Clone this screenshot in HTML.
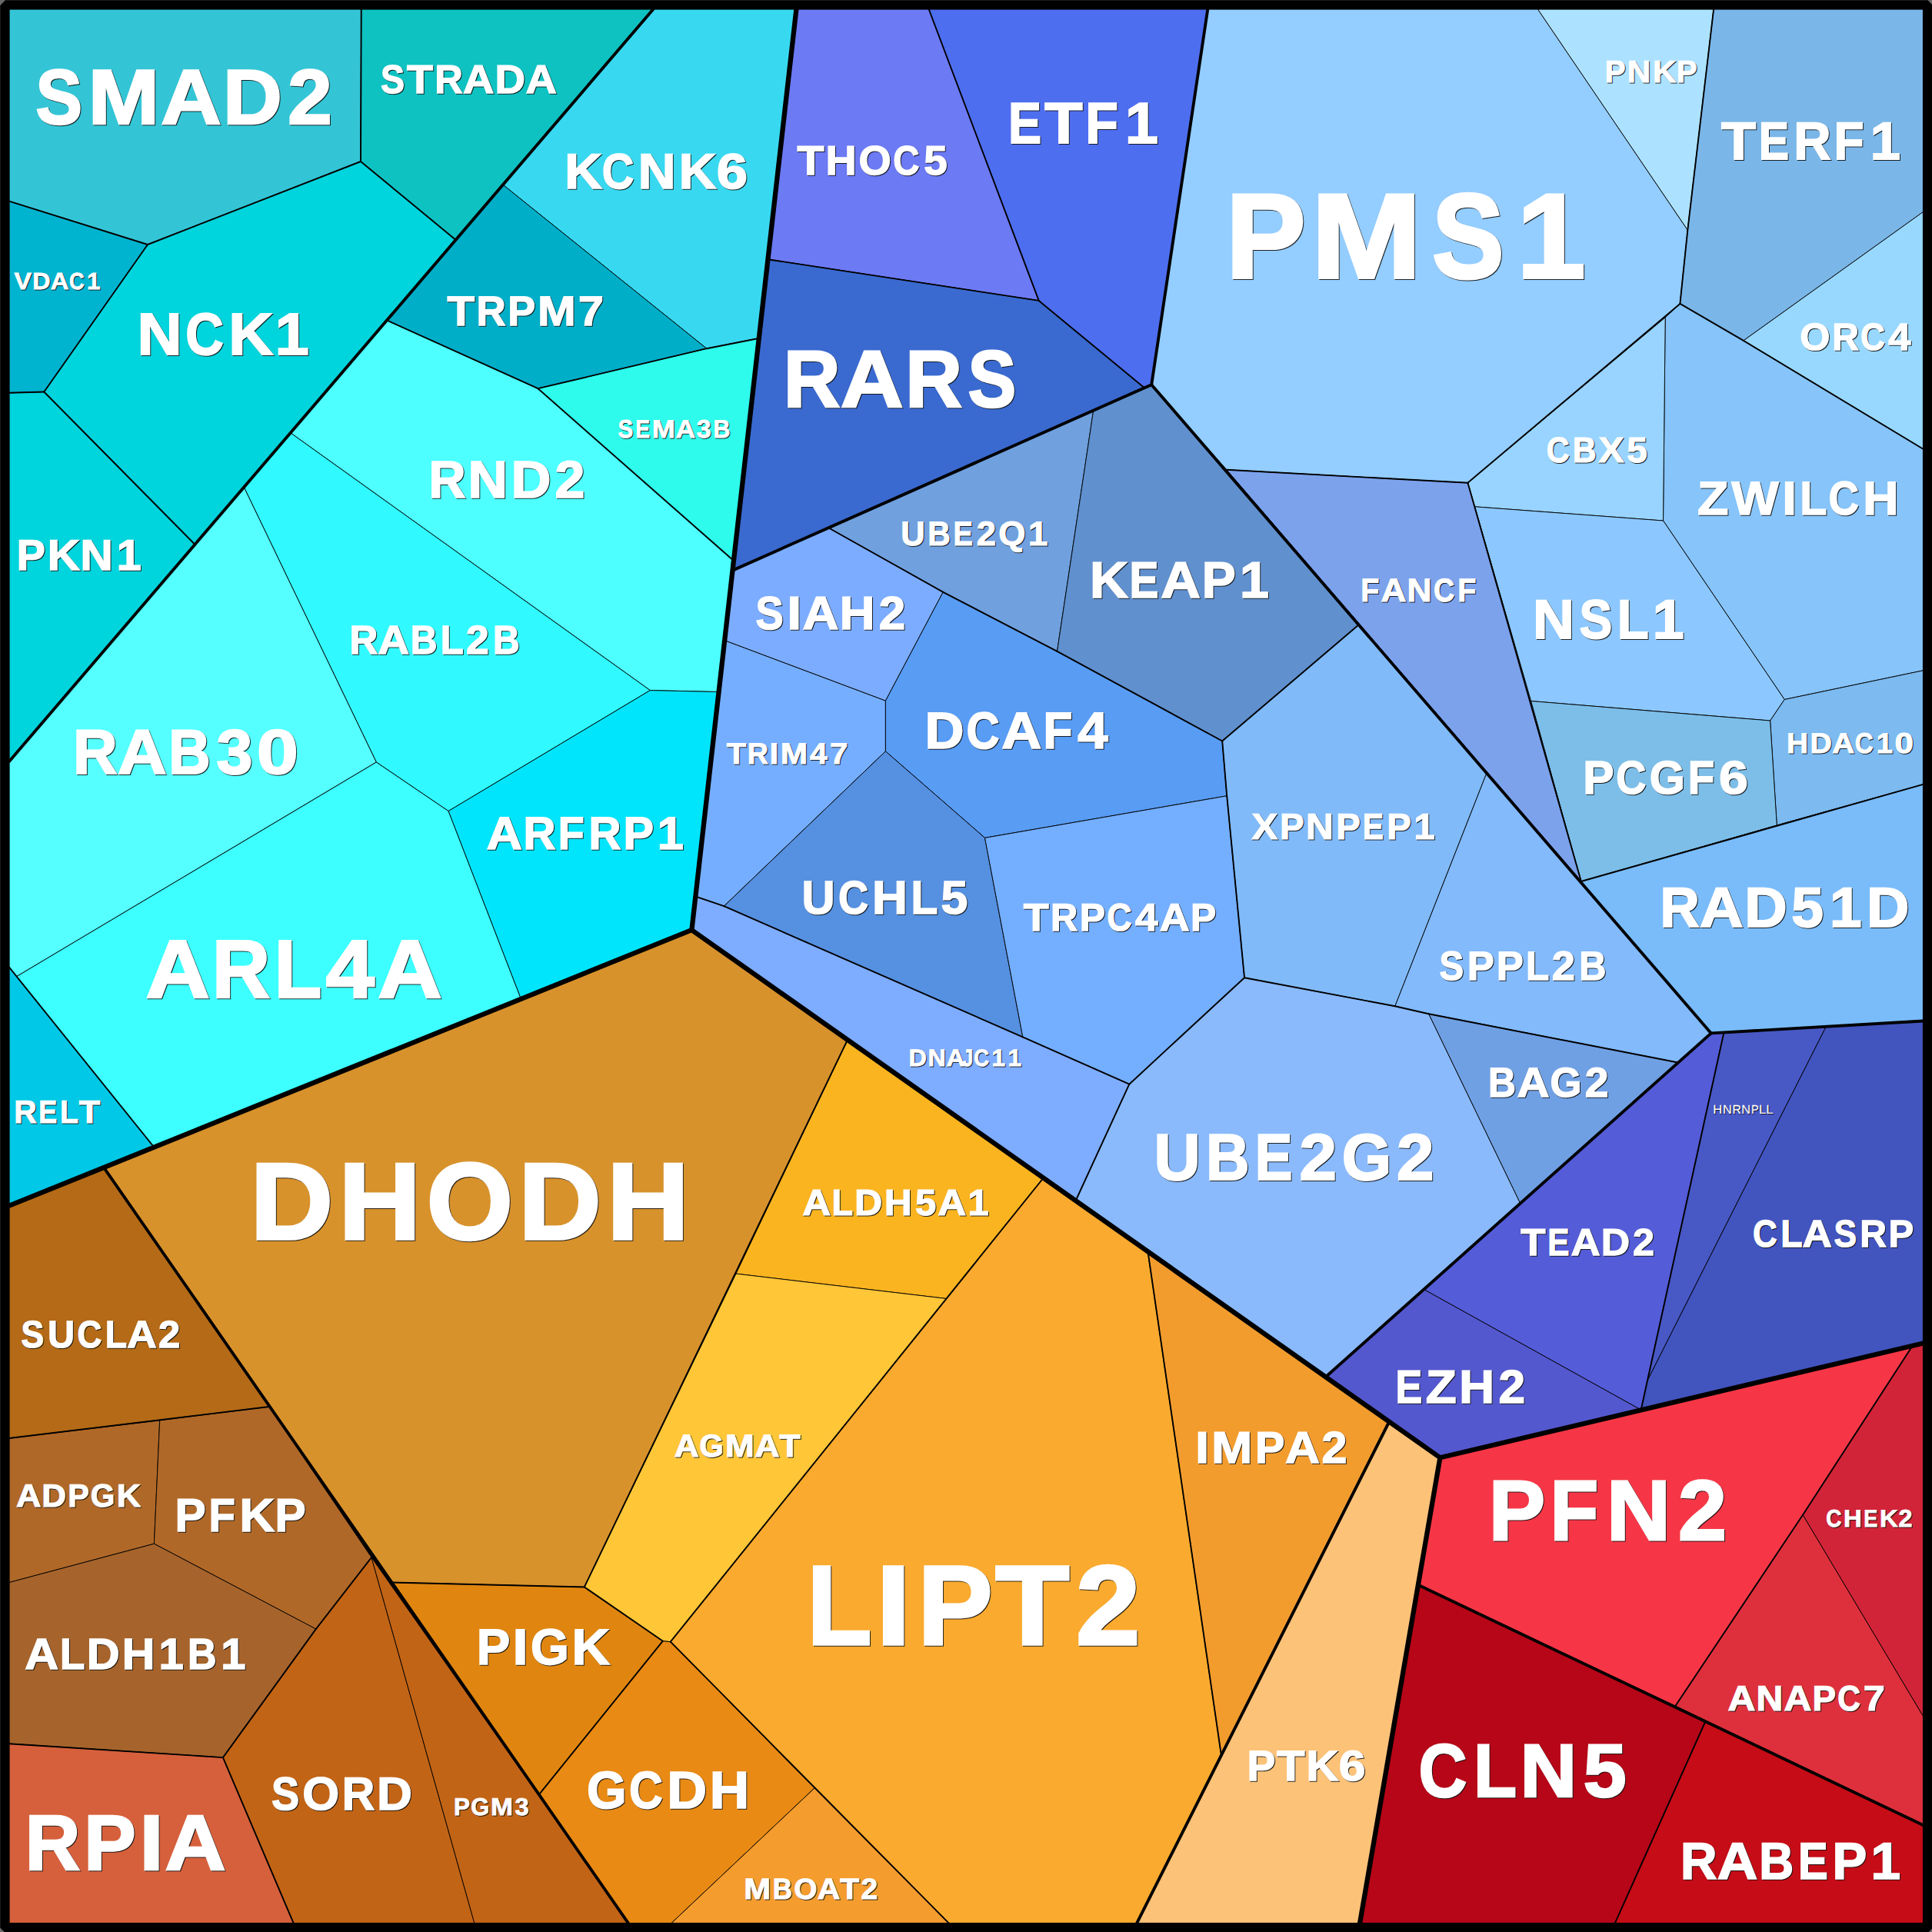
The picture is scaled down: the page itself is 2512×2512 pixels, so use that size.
<!DOCTYPE html>
<html><head><meta charset="utf-8"><title>Voronoi treemap</title>
<style>
html,body{margin:0;padding:0;background:#000;overflow:hidden;}
svg{display:block}
text{font-family:"Liberation Sans",sans-serif;font-weight:bold;font-kerning:none;text-rendering:geometricPrecision;}
.c{stroke:#000;stroke-width:0.90;stroke-linejoin:round}
.l{stroke:#000;fill:none;stroke-linecap:round}
.s{fill:#111;stroke:#111;stroke-linejoin:miter}
.t{fill:#fff;stroke:#fff;stroke-linejoin:miter}
</style></head><body>
<svg width="2512" height="2512" viewBox="0 0 2512 2512">
<rect x="0" y="0" width="2512" height="2512" fill="#6a6a6a"/>
<polygon fill="#000" points="6.9,0.5 2506.5,0.5 2512.6,6.7 2512.6,2506.8 2507,2512.6 6.5,2512.6 0.5,2506.5 0.5,6.9"/>

<g class="c">
<polygon fill="#33C5D6" points="12.0,12.0 469.7,12.0 469.0,210.0 192.0,318.0 12.0,261.7"/>
<polygon fill="#0EC2C2" points="469.7,12.0 849.3,12.0 592.0,311.4 469.0,210.0"/>
<polygon fill="#00B4D0" points="12.0,261.7 192.0,318.0 57.3,509.5 12.0,510.8"/>
<polygon fill="#00D4DC" points="469.0,210.0 592.0,311.4 253.0,707.5 57.3,509.5 192.0,318.0"/>
<polygon fill="#00D4DC" points="12.0,510.8 57.3,509.5 253.0,707.5 12.0,990.0"/>
<polygon fill="#38D9F0" points="849.3,12.0 1035.4,12.0 986.0,440.0 918.8,453.2 654.0,240.2"/>
<polygon fill="#00AEC8" points="654.0,240.2 918.8,453.2 699.5,505.2 503.5,416.7"/>
<polygon fill="#2EFBEB" points="918.8,453.2 986.0,440.0 953.0,728.3 699.5,505.2"/>
<polygon fill="#4DFFFF" points="503.5,416.7 699.5,505.2 953.0,728.3 934.0,899.6 845.3,897.6 378.0,563.0"/>
<polygon fill="#30FAFF" points="378.0,563.0 845.3,897.6 583.0,1054.6 489.3,991.0 317.5,634.0"/>
<polygon fill="#55FFFF" points="317.5,634.0 489.3,991.0 21.7,1269.6 12.0,1257.7 12.0,990.0"/>
<polygon fill="#00E5FC" points="845.3,897.6 934.0,899.6 899.4,1209.2 677.0,1298.0 583.0,1054.6"/>
<polygon fill="#3DFFFF" points="489.3,991.0 583.0,1054.6 677.0,1298.0 199.8,1491.0 21.7,1269.6"/>
<polygon fill="#00C8E6" points="12.0,1257.7 21.7,1269.6 199.8,1491.0 12.0,1567.7"/>
<polygon fill="#6C7AF4" points="1035.4,12.0 1207.7,12.0 1350.7,390.9 998.5,337.2"/>
<polygon fill="#4E6EF0" points="1207.7,12.0 1570.3,12.0 1497.2,500.2 1487.0,503.5 1350.7,390.9"/>
<polygon fill="#3A6AD0" points="998.5,337.2 1350.7,390.9 1487.0,503.5 952.5,741.6"/>
<polygon fill="#94CDFF" points="1570.3,12.0 1999.5,12.0 2194.3,299.1 2184.4,394.9 2165.2,412.8 1908.4,627.8 1594.8,610.8 1497.2,500.2"/>
<polygon fill="#ACE2FF" points="1999.5,12.0 2228.1,12.0 2194.3,299.1"/>
<polygon fill="#7AB6E8" points="2228.1,12.0 2500.4,12.0 2500.4,275.6 2266.9,442.9 2184.4,394.9 2194.3,299.1"/>
<polygon fill="#98D8FF" points="2500.4,275.6 2500.4,583.7 2266.9,442.9"/>
<polygon fill="#86C4FA" points="2165.2,412.8 2184.4,394.9 2266.9,442.9 2500.4,583.7 2500.4,871.8 2320.2,909.5 2162.5,677.0"/>
<polygon fill="#98D4FF" points="1908.4,627.8 2165.2,412.8 2162.5,677.0 1917.5,658.8"/>
<polygon fill="#8CC8FF" points="1917.5,658.8 2162.5,677.0 2320.2,909.5 2301.6,937.0 1990.5,911.5"/>
<polygon fill="#7CBAF0" points="2320.2,909.5 2500.4,871.8 2500.4,1019.9 2310.3,1073.0 2301.6,937.0"/>
<polygon fill="#7CBEE8" points="1990.5,911.5 2301.6,937.0 2310.3,1073.0 2055.8,1146.0"/>
<polygon fill="#7CA2EC" points="1594.8,610.8 1908.4,627.8 1917.5,658.8 1990.5,911.5 2055.8,1146.0"/>
<polygon fill="#7ABCFA" points="2055.8,1146.0 2310.3,1073.0 2500.4,1019.9 2500.4,1327.5 2224.8,1343.4"/>
<polygon fill="#70A0DE" points="1078.5,687.0 1421.6,534.0 1374.5,846.9 1226.2,769.8"/>
<polygon fill="#6090CE" points="1421.6,534.0 1497.2,500.2 1766.4,812.5 1589.2,963.5 1374.5,846.9"/>
<polygon fill="#7CACFF" points="952.5,741.6 1078.5,687.0 1226.2,769.8 1151.4,911.2 942.0,832.7"/>
<polygon fill="#76AEFF" points="942.0,832.7 1151.4,911.2 1151.4,976.8 941.3,1178.2 904.5,1165.6"/>
<polygon fill="#589CF4" points="1226.2,769.8 1374.5,846.9 1589.2,963.5 1595.2,1034.8 1280.5,1089.4 1151.4,976.8 1151.4,911.2"/>
<polygon fill="#5690E0" points="1151.4,976.8 1280.5,1089.4 1329.8,1348.4 941.3,1178.2"/>
<polygon fill="#74AEFF" points="1280.5,1089.4 1595.2,1034.8 1618.0,1271.2 1468.3,1409.7 1329.8,1348.4"/>
<polygon fill="#80BAF8" points="1589.2,963.5 1766.4,812.5 1933.0,1005.0 1813.8,1308.3 1618.0,1271.2 1595.2,1034.8"/>
<polygon fill="#82BAFC" points="1933.0,1005.0 2224.8,1343.4 2181.7,1381.5 1857.5,1318.2 1813.8,1308.3"/>
<polygon fill="#70A0E4" points="1857.5,1318.2 2181.7,1381.5 1976.3,1564.0"/>
<polygon fill="#8ABAFC" points="1468.3,1409.7 1618.0,1271.2 1813.8,1308.3 1857.5,1318.2 1976.3,1564.0 1724.0,1790.0 1398.7,1561.0"/>
<polygon fill="#7EACFF" points="904.5,1165.6 941.3,1178.2 1329.8,1348.4 1468.3,1409.7 1398.7,1561.0 899.4,1209.2"/>
<polygon fill="#5458CE" points="1724.0,1790.0 1851.6,1676.5 2133.7,1833.0 1872.4,1895.2"/>
<polygon fill="#545CD8" points="1851.6,1676.5 2224.8,1343.4 2241.4,1342.5 2142.0,1795.0 2133.7,1833.0"/>
<polygon fill="#4858C4" points="2241.4,1342.5 2374.2,1334.9 2142.0,1795.0"/>
<polygon fill="#4254BE" points="2374.2,1334.9 2500.4,1327.5 2500.4,1746.5 2133.7,1833.0 2142.0,1795.0"/>
<polygon fill="#B46A16" points="12.0,1567.7 135.0,1518.0 350.0,1829.0 12.0,1870.0"/>
<polygon fill="#B06828" points="12.0,1870.0 207.7,1846.9 200.4,2007.2 12.0,2057.5"/>
<polygon fill="#B06828" points="207.7,1846.9 350.0,1829.0 483.0,2025.0 410.8,2118.1 200.4,2007.2"/>
<polygon fill="#A6642C" points="12.0,2057.5 200.4,2007.2 410.8,2118.1 289.9,2285.1 12.0,2267.2"/>
<polygon fill="#D6603C" points="12.0,2267.2 289.9,2285.1 381.6,2500.4 12.0,2500.4"/>
<polygon fill="#C26416" points="289.9,2285.1 410.8,2118.1 483.0,2025.0 616.8,2500.4 381.6,2500.4"/>
<polygon fill="#C26416" points="483.0,2025.0 816.8,2500.4 616.8,2500.4"/>
<polygon fill="#D8922C" points="135.0,1518.0 899.4,1209.2 1102.0,1352.0 957.0,1656.1 759.8,2063.5 509.5,2057.5"/>
<polygon fill="#FAB420" points="1102.0,1352.0 1356.7,1531.5 1230.9,1688.5 957.0,1656.1"/>
<polygon fill="#FFC638" points="957.0,1656.1 1230.9,1688.5 871.8,2134.7 861.8,2133.7 759.8,2063.5"/>
<polygon fill="#FAAA2E" points="1356.7,1531.5 1492.5,1627.5 1588.0,2282.8 1478.2,2500.4 1233.5,2500.4 1058.9,2325.0 871.8,2134.7 1230.9,1688.5"/>
<polygon fill="#F29C2E" points="1492.5,1627.5 1806.2,1848.5 1588.0,2282.8"/>
<polygon fill="#FCC278" points="1806.2,1848.5 1872.4,1895.2 1768.1,2500.4 1478.2,2500.4"/>
<polygon fill="#E08610" points="509.5,2057.5 759.8,2063.5 861.8,2133.7 701.0,2333.1"/>
<polygon fill="#E88A14" points="701.0,2333.1 861.8,2133.7 871.8,2134.7 1058.9,2325.0 873.1,2500.4 816.8,2500.4"/>
<polygon fill="#F49C2E" points="1058.9,2325.0 1233.5,2500.4 873.1,2500.4"/>
<polygon fill="#F63646" points="1872.4,1895.2 2486.5,1750.0 2344.0,1969.7 2178.4,2218.0 1844.0,2060.8"/>
<polygon fill="#D22438" points="2486.5,1750.0 2500.4,1746.5 2500.4,2231.4 2344.0,1969.7"/>
<polygon fill="#DE303C" points="2344.0,1969.7 2500.4,2231.4 2500.4,2372.9 2178.4,2218.0"/>
<polygon fill="#B60618" points="1844.0,2060.8 2217.5,2238.0 2099.9,2500.4 1768.1,2500.4"/>
<polygon fill="#C60C16" points="2217.5,2238.0 2500.4,2372.9 2500.4,2500.4 2099.9,2500.4"/>
</g>
<g class="l">
<polyline stroke-width="6.30" points="1035.4,12.0 899.4,1209.2"/>
<polyline stroke-width="6.30" points="12.0,1567.7 899.4,1209.2"/>
<polyline stroke-width="6.30" points="899.4,1209.2 1872.4,1895.2"/>
<polyline stroke-width="6.30" points="1872.4,1895.2 2500.4,1746.5"/>
<polyline stroke-width="6.30" points="1872.4,1895.2 1768.1,2500.4"/>
<polyline stroke-width="3.90" points="849.3,12.0 12.0,990.0"/>
<polyline stroke-width="3.90" points="1570.3,12.0 1497.2,500.2"/>
<polyline stroke-width="3.90" points="1497.2,500.2 952.5,741.6"/>
<polyline stroke-width="3.90" points="1497.2,500.2 2224.8,1343.4"/>
<polyline stroke-width="3.90" points="2224.8,1343.4 1724.0,1790.0"/>
<polyline stroke-width="3.90" points="2224.8,1343.4 2500.4,1327.5"/>
<polyline stroke-width="3.90" points="135.0,1518.0 816.8,2500.4"/>
<polyline stroke-width="3.90" points="1806.2,1848.5 1478.2,2500.4"/>
<polyline stroke-width="3.90" points="1844.0,2060.8 2500.4,2372.9"/>
<polyline stroke-width="1.90" points="469.7,12.0 469.0,210.0"/>
<polyline stroke-width="1.90" points="469.0,210.0 192.0,318.0"/>
<polyline stroke-width="1.90" points="12.0,261.7 192.0,318.0"/>
<polyline stroke-width="1.90" points="469.0,210.0 592.0,311.4"/>
<polyline stroke-width="1.90" points="192.0,318.0 57.3,509.5"/>
<polyline stroke-width="1.90" points="57.3,509.5 253.0,707.5"/>
<polyline stroke-width="1.90" points="12.0,510.8 57.3,509.5"/>
<polyline stroke-width="1.90" points="918.8,453.2 986.0,440.0"/>
<polyline stroke-width="1.90" points="918.8,453.2 699.5,505.2"/>
<polyline stroke-width="1.90" points="699.5,505.2 503.5,416.7"/>
<polyline stroke-width="1.90" points="699.5,505.2 953.0,728.3"/>
<polyline stroke-width="1.90" points="12.0,1257.7 199.8,1491.0"/>
<polyline stroke-width="1.90" points="1207.7,12.0 1350.7,390.9"/>
<polyline stroke-width="1.90" points="998.5,337.2 1350.7,390.9"/>
<polyline stroke-width="1.90" points="1350.7,390.9 1487.0,503.5"/>
<polyline stroke-width="1.90" points="2194.3,299.1 2184.4,394.9"/>
<polyline stroke-width="1.90" points="2228.1,12.0 2194.3,299.1"/>
<polyline stroke-width="1.90" points="2184.4,394.9 2266.9,442.9"/>
<polyline stroke-width="1.90" points="2266.9,442.9 2500.4,583.7"/>
<polyline stroke-width="1.90" points="2184.4,394.9 1908.4,627.8"/>
<polyline stroke-width="1.90" points="1594.8,610.8 1908.4,627.8"/>
<polyline stroke-width="1.90" points="1908.4,627.8 2055.8,1146.0"/>
<polyline stroke-width="1.90" points="2055.8,1146.0 2500.4,1019.9"/>
<polyline stroke-width="1.90" points="1078.5,687.0 1226.2,769.8"/>
<polyline stroke-width="1.90" points="1226.2,769.8 1374.5,846.9"/>
<polyline stroke-width="1.90" points="1374.5,846.9 1589.2,963.5"/>
<polyline stroke-width="1.90" points="1589.2,963.5 1766.4,812.5"/>
<polyline stroke-width="1.90" points="1589.2,963.5 1595.2,1034.8"/>
<polyline stroke-width="1.90" points="1595.2,1034.8 1618.0,1271.2"/>
<polyline stroke-width="1.90" points="1618.0,1271.2 1468.3,1409.7"/>
<polyline stroke-width="1.90" points="1468.3,1409.7 1329.8,1348.4"/>
<polyline stroke-width="1.90" points="1329.8,1348.4 941.3,1178.2"/>
<polyline stroke-width="1.90" points="941.3,1178.2 904.5,1165.6"/>
<polyline stroke-width="1.90" points="1468.3,1409.7 1398.7,1561.0"/>
<polyline stroke-width="1.90" points="1618.0,1271.2 1813.8,1308.3"/>
<polyline stroke-width="1.90" points="1813.8,1308.3 1857.5,1318.2"/>
<polyline stroke-width="1.90" points="1857.5,1318.2 2181.7,1381.5"/>
<polyline stroke-width="1.90" points="2241.4,1342.5 2142.0,1795.0"/>
<polyline stroke-width="1.90" points="2142.0,1795.0 2133.7,1833.0"/>
<polyline stroke-width="1.90" points="12.0,1870.0 350.0,1829.0"/>
<polyline stroke-width="1.90" points="12.0,2267.2 289.9,2285.1"/>
<polyline stroke-width="1.90" points="289.9,2285.1 410.8,2118.1"/>
<polyline stroke-width="1.90" points="410.8,2118.1 483.0,2025.0"/>
<polyline stroke-width="1.90" points="289.9,2285.1 381.6,2500.4"/>
<polyline stroke-width="1.90" points="1102.0,1352.0 759.8,2063.5"/>
<polyline stroke-width="1.90" points="509.5,2057.5 759.8,2063.5"/>
<polyline stroke-width="1.90" points="1356.7,1531.5 871.8,2134.7"/>
<polyline stroke-width="1.90" points="759.8,2063.5 861.8,2133.7"/>
<polyline stroke-width="1.90" points="861.8,2133.7 701.0,2333.1"/>
<polyline stroke-width="1.90" points="871.8,2134.7 1233.5,2500.4"/>
<polyline stroke-width="1.90" points="1492.5,1627.5 1588.0,2282.8"/>
<polyline stroke-width="1.90" points="2486.5,1750.0 2344.0,1969.7"/>
<polyline stroke-width="1.90" points="2344.0,1969.7 2178.4,2218.0"/>
<polyline stroke-width="1.90" points="2217.5,2238.0 2099.9,2500.4"/>
</g>
<path fill="#000" fill-rule="evenodd" d="M0.5,6.9 L6.9,0.5 H2506.5 L2512.6,6.7 V2506.8 L2507,2512.6 H6.5 L0.5,2506.5 Z M12.3,12.3 V2500.5 H2500.5 V12.3 Z"/>
<g opacity="0.9">
<text class="s" y="162.12" font-size="100.98" stroke-width="2.57"><tspan x="47.5" textLength="60.42" lengthAdjust="spacingAndGlyphs">S</tspan><tspan x="115.8" textLength="92.42" lengthAdjust="spacingAndGlyphs">M</tspan><tspan x="210.3" textLength="78.52" lengthAdjust="spacingAndGlyphs">A</tspan><tspan x="290.9" textLength="76.81" lengthAdjust="spacingAndGlyphs">D</tspan><tspan x="375.2" textLength="57.51" lengthAdjust="spacingAndGlyphs">2</tspan></text>
<text class="s" y="121.74" font-size="51.96" stroke-width="1.32"><tspan x="495.9" textLength="31.09" lengthAdjust="spacingAndGlyphs">S</tspan><tspan x="529.9" textLength="34.07" lengthAdjust="spacingAndGlyphs">T</tspan><tspan x="566.2" textLength="36.58" lengthAdjust="spacingAndGlyphs">R</tspan><tspan x="602.9" textLength="40.41" lengthAdjust="spacingAndGlyphs">A</tspan><tspan x="644.4" textLength="39.52" lengthAdjust="spacingAndGlyphs">D</tspan><tspan x="684.5" textLength="40.41" lengthAdjust="spacingAndGlyphs">A</tspan></text>
<text class="s" y="377.21" font-size="30.57" stroke-width="0.78"><tspan x="19.4" textLength="22.54" lengthAdjust="spacingAndGlyphs">V</tspan><tspan x="43.2" textLength="23.25" lengthAdjust="spacingAndGlyphs">D</tspan><tspan x="66.8" textLength="23.77" lengthAdjust="spacingAndGlyphs">A</tspan><tspan x="91.0" textLength="19.63" lengthAdjust="spacingAndGlyphs">C</tspan><tspan x="113.9" textLength="17.45" lengthAdjust="spacingAndGlyphs">1</tspan></text>
<text class="s" y="461.62" font-size="77.14" stroke-width="1.96"><tspan x="179.6" textLength="58.18" lengthAdjust="spacingAndGlyphs">N</tspan><tspan x="242.2" textLength="49.54" lengthAdjust="spacingAndGlyphs">C</tspan><tspan x="298.2" textLength="58.02" lengthAdjust="spacingAndGlyphs">K</tspan><tspan x="358.7" textLength="44.05" lengthAdjust="spacingAndGlyphs">1</tspan></text>
<text class="s" y="246.48" font-size="64.72" stroke-width="1.65"><tspan x="735.2" textLength="48.67" lengthAdjust="spacingAndGlyphs">K</tspan><tspan x="783.8" textLength="41.56" lengthAdjust="spacingAndGlyphs">C</tspan><tspan x="830.8" textLength="48.81" lengthAdjust="spacingAndGlyphs">N</tspan><tspan x="883.8" textLength="48.67" lengthAdjust="spacingAndGlyphs">K</tspan><tspan x="932.8" textLength="40.37" lengthAdjust="spacingAndGlyphs">6</tspan></text>
<text class="s" y="423.61" font-size="54.33" stroke-width="1.38"><tspan x="582.4" textLength="35.62" lengthAdjust="spacingAndGlyphs">T</tspan><tspan x="620.4" textLength="38.24" lengthAdjust="spacingAndGlyphs">R</tspan><tspan x="661.3" textLength="35.98" lengthAdjust="spacingAndGlyphs">P</tspan><tspan x="699.9" textLength="49.73" lengthAdjust="spacingAndGlyphs">M</tspan><tspan x="752.9" textLength="32.98" lengthAdjust="spacingAndGlyphs">7</tspan></text>
<text class="s" y="569.68" font-size="32.94" stroke-width="0.84"><tspan x="804.5" textLength="19.71" lengthAdjust="spacingAndGlyphs">S</tspan><tspan x="827.3" textLength="18.86" lengthAdjust="spacingAndGlyphs">E</tspan><tspan x="848.8" textLength="30.15" lengthAdjust="spacingAndGlyphs">M</tspan><tspan x="879.6" textLength="25.62" lengthAdjust="spacingAndGlyphs">A</tspan><tspan x="906.7" textLength="18.88" lengthAdjust="spacingAndGlyphs">3</tspan><tspan x="928.6" textLength="21.92" lengthAdjust="spacingAndGlyphs">B</tspan></text>
<text class="s" y="227.92" font-size="53.37" stroke-width="1.36"><tspan x="1037.4" textLength="34.99" lengthAdjust="spacingAndGlyphs">T</tspan><tspan x="1074.5" textLength="40.25" lengthAdjust="spacingAndGlyphs">H</tspan><tspan x="1117.5" textLength="42.33" lengthAdjust="spacingAndGlyphs">O</tspan><tspan x="1162.2" textLength="34.27" lengthAdjust="spacingAndGlyphs">C</tspan><tspan x="1202.2" textLength="30.52" lengthAdjust="spacingAndGlyphs">5</tspan></text>
<text class="s" y="530.47" font-size="104.92" stroke-width="2.67"><tspan x="1019.8" textLength="73.85" lengthAdjust="spacingAndGlyphs">R</tspan><tspan x="1094.0" textLength="81.59" lengthAdjust="spacingAndGlyphs">A</tspan><tspan x="1178.3" textLength="73.85" lengthAdjust="spacingAndGlyphs">R</tspan><tspan x="1259.5" textLength="62.78" lengthAdjust="spacingAndGlyphs">S</tspan></text>
<text class="s" y="648.13" font-size="68.31" stroke-width="1.74"><tspan x="558.4" textLength="48.09" lengthAdjust="spacingAndGlyphs">R</tspan><tspan x="609.6" textLength="51.52" lengthAdjust="spacingAndGlyphs">N</tspan><tspan x="665.5" textLength="51.96" lengthAdjust="spacingAndGlyphs">D</tspan><tspan x="722.5" textLength="38.91" lengthAdjust="spacingAndGlyphs">2</tspan></text>
<text class="s" y="186.54" font-size="75.31" stroke-width="1.92"><tspan x="1311.9" textLength="43.11" lengthAdjust="spacingAndGlyphs">E</tspan><tspan x="1359.3" textLength="49.38" lengthAdjust="spacingAndGlyphs">T</tspan><tspan x="1412.2" textLength="42.71" lengthAdjust="spacingAndGlyphs">F</tspan><tspan x="1463.9" textLength="43.00" lengthAdjust="spacingAndGlyphs">1</tspan></text>
<text class="s" y="361.71" font-size="156.45" stroke-width="3.98"><tspan x="1595.0" textLength="103.60" lengthAdjust="spacingAndGlyphs">P</tspan><tspan x="1706.1" textLength="143.20" lengthAdjust="spacingAndGlyphs">M</tspan><tspan x="1862.9" textLength="93.62" lengthAdjust="spacingAndGlyphs">S</tspan><tspan x="1973.3" textLength="89.33" lengthAdjust="spacingAndGlyphs">1</tspan></text>
<text class="s" y="108.19" font-size="40.46" stroke-width="1.03"><tspan x="2087.8" textLength="26.79" lengthAdjust="spacingAndGlyphs">P</tspan><tspan x="2116.7" textLength="30.51" lengthAdjust="spacingAndGlyphs">N</tspan><tspan x="2149.9" textLength="30.43" lengthAdjust="spacingAndGlyphs">K</tspan><tspan x="2180.7" textLength="26.79" lengthAdjust="spacingAndGlyphs">P</tspan></text>
<text class="s" y="208.12" font-size="68.87" stroke-width="1.75"><tspan x="2239.0" textLength="45.16" lengthAdjust="spacingAndGlyphs">T</tspan><tspan x="2287.8" textLength="39.43" lengthAdjust="spacingAndGlyphs">E</tspan><tspan x="2333.3" textLength="48.48" lengthAdjust="spacingAndGlyphs">R</tspan><tspan x="2385.4" textLength="39.06" lengthAdjust="spacingAndGlyphs">F</tspan><tspan x="2432.7" textLength="39.33" lengthAdjust="spacingAndGlyphs">1</tspan></text>
<text class="s" y="455.87" font-size="49.50" stroke-width="1.26"><tspan x="2341.3" textLength="39.26" lengthAdjust="spacingAndGlyphs">O</tspan><tspan x="2383.3" textLength="34.84" lengthAdjust="spacingAndGlyphs">R</tspan><tspan x="2420.0" textLength="31.79" lengthAdjust="spacingAndGlyphs">C</tspan><tspan x="2456.3" textLength="29.12" lengthAdjust="spacingAndGlyphs">4</tspan></text>
<text class="s" y="601.61" font-size="46.43" stroke-width="1.18"><tspan x="2011.7" textLength="29.82" lengthAdjust="spacingAndGlyphs">C</tspan><tspan x="2045.8" textLength="30.89" lengthAdjust="spacingAndGlyphs">B</tspan><tspan x="2079.5" textLength="32.95" lengthAdjust="spacingAndGlyphs">X</tspan><tspan x="2116.2" textLength="26.56" lengthAdjust="spacingAndGlyphs">5</tspan></text>
<text class="s" y="669.92" font-size="61.43" stroke-width="1.56"><tspan x="2208.0" textLength="40.51" lengthAdjust="spacingAndGlyphs">Z</tspan><tspan x="2252.6" textLength="61.21" lengthAdjust="spacingAndGlyphs">W</tspan><tspan x="2318.2" textLength="18.78" lengthAdjust="spacingAndGlyphs">I</tspan><tspan x="2341.2" textLength="35.21" lengthAdjust="spacingAndGlyphs">L</tspan><tspan x="2378.6" textLength="39.45" lengthAdjust="spacingAndGlyphs">C</tspan><tspan x="2423.2" textLength="46.33" lengthAdjust="spacingAndGlyphs">H</tspan></text>
<text class="s" y="741.89" font-size="56.09" stroke-width="1.43"><tspan x="22.8" textLength="37.15" lengthAdjust="spacingAndGlyphs">P</tspan><tspan x="62.8" textLength="42.19" lengthAdjust="spacingAndGlyphs">K</tspan><tspan x="105.4" textLength="42.30" lengthAdjust="spacingAndGlyphs">N</tspan><tspan x="152.8" textLength="32.03" lengthAdjust="spacingAndGlyphs">1</tspan></text>
<text class="s" y="1006.56" font-size="81.99" stroke-width="2.09"><tspan x="96.1" textLength="57.71" lengthAdjust="spacingAndGlyphs">R</tspan><tspan x="154.1" textLength="63.76" lengthAdjust="spacingAndGlyphs">A</tspan><tspan x="220.3" textLength="54.55" lengthAdjust="spacingAndGlyphs">B</tspan><tspan x="282.6" textLength="46.98" lengthAdjust="spacingAndGlyphs">3</tspan><tspan x="335.0" textLength="53.87" lengthAdjust="spacingAndGlyphs">0</tspan></text>
<text class="s" y="851.23" font-size="52.38" stroke-width="1.33"><tspan x="455.4" textLength="36.87" lengthAdjust="spacingAndGlyphs">R</tspan><tspan x="492.4" textLength="40.73" lengthAdjust="spacingAndGlyphs">A</tspan><tspan x="534.7" textLength="34.85" lengthAdjust="spacingAndGlyphs">B</tspan><tspan x="573.7" textLength="30.02" lengthAdjust="spacingAndGlyphs">L</tspan><tspan x="607.1" textLength="29.83" lengthAdjust="spacingAndGlyphs">2</tspan><tspan x="642.1" textLength="34.85" lengthAdjust="spacingAndGlyphs">B</tspan></text>
<text class="s" y="1297.84" font-size="107.20" stroke-width="2.73"><tspan x="190.5" textLength="83.36" lengthAdjust="spacingAndGlyphs">A</tspan><tspan x="276.7" textLength="75.46" lengthAdjust="spacingAndGlyphs">R</tspan><tspan x="357.7" textLength="61.45" lengthAdjust="spacingAndGlyphs">L</tspan><tspan x="424.7" textLength="63.07" lengthAdjust="spacingAndGlyphs">4</tspan><tspan x="492.3" textLength="83.36" lengthAdjust="spacingAndGlyphs">A</tspan></text>
<text class="s" y="1104.54" font-size="59.80" stroke-width="1.52"><tspan x="633.5" textLength="46.50" lengthAdjust="spacingAndGlyphs">A</tspan><tspan x="681.5" textLength="42.09" lengthAdjust="spacingAndGlyphs">R</tspan><tspan x="726.8" textLength="33.92" lengthAdjust="spacingAndGlyphs">F</tspan><tspan x="766.6" textLength="42.09" lengthAdjust="spacingAndGlyphs">R</tspan><tspan x="811.6" textLength="39.60" lengthAdjust="spacingAndGlyphs">P</tspan><tspan x="855.8" textLength="34.15" lengthAdjust="spacingAndGlyphs">1</tspan></text>
<text class="s" y="819.03" font-size="60.61" stroke-width="1.54"><tspan x="983.6" textLength="36.27" lengthAdjust="spacingAndGlyphs">S</tspan><tspan x="1024.6" textLength="18.53" lengthAdjust="spacingAndGlyphs">I</tspan><tspan x="1044.4" textLength="47.13" lengthAdjust="spacingAndGlyphs">A</tspan><tspan x="1092.8" textLength="45.71" lengthAdjust="spacingAndGlyphs">H</tspan><tspan x="1143.8" textLength="34.52" lengthAdjust="spacingAndGlyphs">2</tspan></text>
<text class="s" y="993.91" font-size="38.70" stroke-width="0.98"><tspan x="945.7" textLength="25.38" lengthAdjust="spacingAndGlyphs">T</tspan><tspan x="972.8" textLength="27.24" lengthAdjust="spacingAndGlyphs">R</tspan><tspan x="1001.6" textLength="11.83" lengthAdjust="spacingAndGlyphs">I</tspan><tspan x="1015.7" textLength="35.42" lengthAdjust="spacingAndGlyphs">M</tspan><tspan x="1053.9" textLength="22.77" lengthAdjust="spacingAndGlyphs">4</tspan><tspan x="1079.9" textLength="23.49" lengthAdjust="spacingAndGlyphs">7</tspan></text>
<text class="s" y="1189.02" font-size="60.95" stroke-width="1.55"><tspan x="1043.6" textLength="43.17" lengthAdjust="spacingAndGlyphs">U</tspan><tspan x="1090.9" textLength="39.14" lengthAdjust="spacingAndGlyphs">C</tspan><tspan x="1135.1" textLength="45.96" lengthAdjust="spacingAndGlyphs">H</tspan><tspan x="1185.5" textLength="34.94" lengthAdjust="spacingAndGlyphs">L</tspan><tspan x="1224.5" textLength="34.86" lengthAdjust="spacingAndGlyphs">5</tspan></text>
<text class="s" y="709.94" font-size="44.37" stroke-width="1.13"><tspan x="1172.2" textLength="31.43" lengthAdjust="spacingAndGlyphs">U</tspan><tspan x="1207.3" textLength="29.52" lengthAdjust="spacingAndGlyphs">B</tspan><tspan x="1240.6" textLength="25.40" lengthAdjust="spacingAndGlyphs">E</tspan><tspan x="1270.7" textLength="25.27" lengthAdjust="spacingAndGlyphs">2</tspan><tspan x="1299.3" textLength="35.20" lengthAdjust="spacingAndGlyphs">Q</tspan><tspan x="1338.0" textLength="25.34" lengthAdjust="spacingAndGlyphs">1</tspan></text>
<text class="s" y="973.65" font-size="67.00" stroke-width="1.70"><tspan x="1203.5" textLength="50.97" lengthAdjust="spacingAndGlyphs">D</tspan><tspan x="1257.5" textLength="43.03" lengthAdjust="spacingAndGlyphs">C</tspan><tspan x="1303.3" textLength="52.10" lengthAdjust="spacingAndGlyphs">A</tspan><tspan x="1357.4" textLength="38.00" lengthAdjust="spacingAndGlyphs">F</tspan><tspan x="1402.2" textLength="39.42" lengthAdjust="spacingAndGlyphs">4</tspan></text>
<text class="s" y="778.15" font-size="66.53" stroke-width="1.69"><tspan x="1418.1" textLength="50.04" lengthAdjust="spacingAndGlyphs">K</tspan><tspan x="1469.4" textLength="38.09" lengthAdjust="spacingAndGlyphs">E</tspan><tspan x="1510.2" textLength="51.74" lengthAdjust="spacingAndGlyphs">A</tspan><tspan x="1563.7" textLength="44.06" lengthAdjust="spacingAndGlyphs">P</tspan><tspan x="1612.9" textLength="37.99" lengthAdjust="spacingAndGlyphs">1</tspan></text>
<text class="s" y="782.76" font-size="42.49" stroke-width="1.08"><tspan x="1770.3" textLength="24.10" lengthAdjust="spacingAndGlyphs">F</tspan><tspan x="1796.6" textLength="33.04" lengthAdjust="spacingAndGlyphs">A</tspan><tspan x="1830.6" textLength="32.04" lengthAdjust="spacingAndGlyphs">N</tspan><tspan x="1865.0" textLength="27.29" lengthAdjust="spacingAndGlyphs">C</tspan><tspan x="1896.2" textLength="24.10" lengthAdjust="spacingAndGlyphs">F</tspan></text>
<text class="s" y="1092.49" font-size="47.61" stroke-width="1.21"><tspan x="1628.5" textLength="33.78" lengthAdjust="spacingAndGlyphs">X</tspan><tspan x="1665.1" textLength="31.52" lengthAdjust="spacingAndGlyphs">P</tspan><tspan x="1699.0" textLength="35.90" lengthAdjust="spacingAndGlyphs">N</tspan><tspan x="1738.2" textLength="31.52" lengthAdjust="spacingAndGlyphs">P</tspan><tspan x="1772.8" textLength="27.26" lengthAdjust="spacingAndGlyphs">E</tspan><tspan x="1804.2" textLength="31.52" lengthAdjust="spacingAndGlyphs">P</tspan><tspan x="1839.4" textLength="27.18" lengthAdjust="spacingAndGlyphs">1</tspan></text>
<text class="s" y="1210.66" font-size="50.23" stroke-width="1.28"><tspan x="1331.8" textLength="32.93" lengthAdjust="spacingAndGlyphs">T</tspan><tspan x="1367.0" textLength="35.36" lengthAdjust="spacingAndGlyphs">R</tspan><tspan x="1404.8" textLength="33.26" lengthAdjust="spacingAndGlyphs">P</tspan><tspan x="1440.2" textLength="32.26" lengthAdjust="spacingAndGlyphs">C</tspan><tspan x="1477.1" textLength="29.55" lengthAdjust="spacingAndGlyphs">4</tspan><tspan x="1508.8" textLength="39.06" lengthAdjust="spacingAndGlyphs">A</tspan><tspan x="1549.1" textLength="33.26" lengthAdjust="spacingAndGlyphs">P</tspan></text>
<text class="s" y="831.09" font-size="71.58" stroke-width="1.82"><tspan x="1994.1" textLength="53.98" lengthAdjust="spacingAndGlyphs">N</tspan><tspan x="2054.5" textLength="42.83" lengthAdjust="spacingAndGlyphs">S</tspan><tspan x="2103.7" textLength="41.03" lengthAdjust="spacingAndGlyphs">L</tspan><tspan x="2149.7" textLength="40.87" lengthAdjust="spacingAndGlyphs">1</tspan></text>
<text class="s" y="979.93" font-size="37.23" stroke-width="0.95"><tspan x="2324.1" textLength="28.08" lengthAdjust="spacingAndGlyphs">H</tspan><tspan x="2354.5" textLength="28.32" lengthAdjust="spacingAndGlyphs">D</tspan><tspan x="2383.2" textLength="28.95" lengthAdjust="spacingAndGlyphs">A</tspan><tspan x="2412.7" textLength="23.91" lengthAdjust="spacingAndGlyphs">C</tspan><tspan x="2440.7" textLength="21.26" lengthAdjust="spacingAndGlyphs">1</tspan><tspan x="2464.4" textLength="24.46" lengthAdjust="spacingAndGlyphs">0</tspan></text>
<text class="s" y="1033.33" font-size="60.86" stroke-width="1.55"><tspan x="2059.2" textLength="40.30" lengthAdjust="spacingAndGlyphs">P</tspan><tspan x="2102.2" textLength="39.08" lengthAdjust="spacingAndGlyphs">C</tspan><tspan x="2145.7" textLength="46.08" lengthAdjust="spacingAndGlyphs">G</tspan><tspan x="2195.7" textLength="34.52" lengthAdjust="spacingAndGlyphs">F</tspan><tspan x="2235.9" textLength="37.97" lengthAdjust="spacingAndGlyphs">6</tspan></text>
<text class="s" y="1205.67" font-size="72.97" stroke-width="1.86"><tspan x="2159.4" textLength="51.36" lengthAdjust="spacingAndGlyphs">R</tspan><tspan x="2211.0" textLength="56.74" lengthAdjust="spacingAndGlyphs">A</tspan><tspan x="2269.2" textLength="55.50" lengthAdjust="spacingAndGlyphs">D</tspan><tspan x="2330.3" textLength="41.73" lengthAdjust="spacingAndGlyphs">5</tspan><tspan x="2380.1" textLength="41.66" lengthAdjust="spacingAndGlyphs">1</tspan><tspan x="2427.9" textLength="55.50" lengthAdjust="spacingAndGlyphs">D</tspan></text>
<text class="s" y="1275.13" font-size="52.98" stroke-width="1.35"><tspan x="1872.6" textLength="31.70" lengthAdjust="spacingAndGlyphs">S</tspan><tspan x="1908.8" textLength="35.08" lengthAdjust="spacingAndGlyphs">P</tspan><tspan x="1946.8" textLength="35.08" lengthAdjust="spacingAndGlyphs">P</tspan><tspan x="1985.0" textLength="30.37" lengthAdjust="spacingAndGlyphs">L</tspan><tspan x="2018.8" textLength="30.17" lengthAdjust="spacingAndGlyphs">2</tspan><tspan x="2054.2" textLength="35.25" lengthAdjust="spacingAndGlyphs">B</tspan></text>
<text class="s" y="1461.47" font-size="41.90" stroke-width="1.07"><tspan x="19.3" textLength="29.49" lengthAdjust="spacingAndGlyphs">R</tspan><tspan x="51.2" textLength="23.99" lengthAdjust="spacingAndGlyphs">E</tspan><tspan x="79.0" textLength="24.02" lengthAdjust="spacingAndGlyphs">L</tspan><tspan x="103.7" textLength="27.47" lengthAdjust="spacingAndGlyphs">T</tspan></text>
<text class="s" y="1752.57" font-size="49.63" stroke-width="1.26"><tspan x="28.5" textLength="29.70" lengthAdjust="spacingAndGlyphs">S</tspan><tspan x="62.9" textLength="35.16" lengthAdjust="spacingAndGlyphs">U</tspan><tspan x="101.4" textLength="31.87" lengthAdjust="spacingAndGlyphs">C</tspan><tspan x="137.8" textLength="28.45" lengthAdjust="spacingAndGlyphs">L</tspan><tspan x="166.3" textLength="38.59" lengthAdjust="spacingAndGlyphs">A</tspan><tspan x="207.0" textLength="28.27" lengthAdjust="spacingAndGlyphs">2</tspan></text>
<text class="s" y="1612.40" font-size="141.55" stroke-width="3.60"><tspan x="326.5" textLength="107.67" lengthAdjust="spacingAndGlyphs">D</tspan><tspan x="441.6" textLength="106.75" lengthAdjust="spacingAndGlyphs">H</tspan><tspan x="555.7" textLength="112.28" lengthAdjust="spacingAndGlyphs">O</tspan><tspan x="675.2" textLength="107.67" lengthAdjust="spacingAndGlyphs">D</tspan><tspan x="790.3" textLength="106.75" lengthAdjust="spacingAndGlyphs">H</tspan></text>
<text class="s" y="1581.29" font-size="47.65" stroke-width="1.21"><tspan x="1044.3" textLength="37.05" lengthAdjust="spacingAndGlyphs">A</tspan><tspan x="1082.8" textLength="27.31" lengthAdjust="spacingAndGlyphs">L</tspan><tspan x="1112.1" textLength="36.25" lengthAdjust="spacingAndGlyphs">D</tspan><tspan x="1150.8" textLength="35.94" lengthAdjust="spacingAndGlyphs">H</tspan><tspan x="1191.0" textLength="27.25" lengthAdjust="spacingAndGlyphs">5</tspan><tspan x="1220.3" textLength="37.05" lengthAdjust="spacingAndGlyphs">A</tspan><tspan x="1259.6" textLength="27.21" lengthAdjust="spacingAndGlyphs">1</tspan></text>
<text class="s" y="1895.27" font-size="41.30" stroke-width="1.05"><tspan x="877.8" textLength="32.11" lengthAdjust="spacingAndGlyphs">A</tspan><tspan x="910.4" textLength="31.27" lengthAdjust="spacingAndGlyphs">G</tspan><tspan x="943.9" textLength="37.80" lengthAdjust="spacingAndGlyphs">M</tspan><tspan x="982.5" textLength="32.11" lengthAdjust="spacingAndGlyphs">A</tspan><tspan x="1014.4" textLength="27.08" lengthAdjust="spacingAndGlyphs">T</tspan></text>
<text class="s" y="1387.11" font-size="30.86" stroke-width="0.79"><tspan x="1182.4" textLength="23.47" lengthAdjust="spacingAndGlyphs">D</tspan><tspan x="1207.5" textLength="23.27" lengthAdjust="spacingAndGlyphs">N</tspan><tspan x="1231.5" textLength="24.00" lengthAdjust="spacingAndGlyphs">A</tspan><tspan x="1252.2" textLength="14.07" lengthAdjust="spacingAndGlyphs">J</tspan><tspan x="1267.2" textLength="19.82" lengthAdjust="spacingAndGlyphs">C</tspan><tspan x="1290.4" textLength="17.62" lengthAdjust="spacingAndGlyphs">1</tspan><tspan x="1311.4" textLength="17.62" lengthAdjust="spacingAndGlyphs">1</tspan></text>
<text class="s" y="1534.92" font-size="85.15" stroke-width="2.17"><tspan x="1501.5" textLength="60.32" lengthAdjust="spacingAndGlyphs">U</tspan><tspan x="1568.9" textLength="56.65" lengthAdjust="spacingAndGlyphs">B</tspan><tspan x="1632.8" textLength="48.75" lengthAdjust="spacingAndGlyphs">E</tspan><tspan x="1690.5" textLength="48.50" lengthAdjust="spacingAndGlyphs">2</tspan><tspan x="1745.7" textLength="64.48" lengthAdjust="spacingAndGlyphs">G</tspan><tspan x="1816.9" textLength="48.50" lengthAdjust="spacingAndGlyphs">2</tspan></text>
<text class="s" y="1902.76" font-size="57.91" stroke-width="1.47"><tspan x="1555.2" textLength="17.71" lengthAdjust="spacingAndGlyphs">I</tspan><tspan x="1576.3" textLength="53.01" lengthAdjust="spacingAndGlyphs">M</tspan><tspan x="1633.1" textLength="38.35" lengthAdjust="spacingAndGlyphs">P</tspan><tspan x="1672.0" textLength="45.03" lengthAdjust="spacingAndGlyphs">A</tspan><tspan x="1719.6" textLength="32.98" lengthAdjust="spacingAndGlyphs">2</tspan></text>
<text class="s" y="1824.63" font-size="60.74" stroke-width="1.55"><tspan x="1815.4" textLength="34.78" lengthAdjust="spacingAndGlyphs">E</tspan><tspan x="1854.7" textLength="40.06" lengthAdjust="spacingAndGlyphs">Z</tspan><tspan x="1898.3" textLength="45.81" lengthAdjust="spacingAndGlyphs">H</tspan><tspan x="1949.4" textLength="34.59" lengthAdjust="spacingAndGlyphs">2</tspan></text>
<text class="s" y="1427.21" font-size="54.18" stroke-width="1.38"><tspan x="1936.0" textLength="36.05" lengthAdjust="spacingAndGlyphs">B</tspan><tspan x="1973.6" textLength="42.13" lengthAdjust="spacingAndGlyphs">A</tspan><tspan x="2016.4" textLength="41.03" lengthAdjust="spacingAndGlyphs">G</tspan><tspan x="2061.7" textLength="30.86" lengthAdjust="spacingAndGlyphs">2</tspan></text>
<text class="s" style="font-weight:normal" y="1449.23" font-size="16.08" stroke-width="0.13"><tspan x="2228.3" textLength="11.92" lengthAdjust="spacingAndGlyphs">H</tspan><tspan x="2241.0" textLength="11.83" lengthAdjust="spacingAndGlyphs">N</tspan><tspan x="2253.6" textLength="11.46" lengthAdjust="spacingAndGlyphs">R</tspan><tspan x="2265.3" textLength="11.83" lengthAdjust="spacingAndGlyphs">N</tspan><tspan x="2278.0" textLength="9.76" lengthAdjust="spacingAndGlyphs">P</tspan><tspan x="2288.0" textLength="9.46" lengthAdjust="spacingAndGlyphs">L</tspan><tspan x="2297.3" textLength="9.46" lengthAdjust="spacingAndGlyphs">L</tspan></text>
<text class="s" y="1633.27" font-size="49.27" stroke-width="1.25"><tspan x="1978.3" textLength="32.31" lengthAdjust="spacingAndGlyphs">T</tspan><tspan x="2013.2" textLength="28.21" lengthAdjust="spacingAndGlyphs">E</tspan><tspan x="2043.4" textLength="38.31" lengthAdjust="spacingAndGlyphs">A</tspan><tspan x="2082.8" textLength="37.48" lengthAdjust="spacingAndGlyphs">D</tspan><tspan x="2123.9" textLength="28.06" lengthAdjust="spacingAndGlyphs">2</tspan></text>
<text class="s" y="1622.07" font-size="49.47" stroke-width="1.26"><tspan x="2279.9" textLength="31.77" lengthAdjust="spacingAndGlyphs">C</tspan><tspan x="2316.2" textLength="28.36" lengthAdjust="spacingAndGlyphs">L</tspan><tspan x="2344.6" textLength="38.47" lengthAdjust="spacingAndGlyphs">A</tspan><tspan x="2385.4" textLength="29.60" lengthAdjust="spacingAndGlyphs">S</tspan><tspan x="2419.3" textLength="34.82" lengthAdjust="spacingAndGlyphs">R</tspan><tspan x="2456.5" textLength="32.76" lengthAdjust="spacingAndGlyphs">P</tspan></text>
<text class="s" y="1960.27" font-size="41.74" stroke-width="1.06"><tspan x="21.9" textLength="32.46" lengthAdjust="spacingAndGlyphs">A</tspan><tspan x="55.3" textLength="31.75" lengthAdjust="spacingAndGlyphs">D</tspan><tspan x="89.3" textLength="27.64" lengthAdjust="spacingAndGlyphs">P</tspan><tspan x="118.7" textLength="31.61" lengthAdjust="spacingAndGlyphs">G</tspan><tspan x="152.7" textLength="31.39" lengthAdjust="spacingAndGlyphs">K</tspan></text>
<text class="s" y="1992.13" font-size="60.63" stroke-width="1.54"><tspan x="228.6" textLength="40.15" lengthAdjust="spacingAndGlyphs">P</tspan><tspan x="272.4" textLength="34.39" lengthAdjust="spacingAndGlyphs">F</tspan><tspan x="312.5" textLength="45.59" lengthAdjust="spacingAndGlyphs">K</tspan><tspan x="358.6" textLength="40.15" lengthAdjust="spacingAndGlyphs">P</tspan></text>
<text class="s" y="2171.38" font-size="56.58" stroke-width="1.44"><tspan x="33.3" textLength="43.99" lengthAdjust="spacingAndGlyphs">A</tspan><tspan x="78.9" textLength="32.43" lengthAdjust="spacingAndGlyphs">L</tspan><tspan x="113.8" textLength="43.03" lengthAdjust="spacingAndGlyphs">D</tspan><tspan x="159.8" textLength="42.67" lengthAdjust="spacingAndGlyphs">H</tspan><tspan x="207.6" textLength="32.30" lengthAdjust="spacingAndGlyphs">1</tspan><tspan x="245.1" textLength="37.64" lengthAdjust="spacingAndGlyphs">B</tspan><tspan x="288.3" textLength="32.30" lengthAdjust="spacingAndGlyphs">1</tspan></text>
<text class="s" y="2431.51" font-size="101.69" stroke-width="2.59"><tspan x="33.7" textLength="71.58" lengthAdjust="spacingAndGlyphs">R</tspan><tspan x="110.2" textLength="67.34" lengthAdjust="spacingAndGlyphs">P</tspan><tspan x="182.4" textLength="31.09" lengthAdjust="spacingAndGlyphs">I</tspan><tspan x="215.5" textLength="79.08" lengthAdjust="spacingAndGlyphs">A</tspan></text>
<text class="s" y="2354.23" font-size="60.44" stroke-width="1.54"><tspan x="354.0" textLength="36.17" lengthAdjust="spacingAndGlyphs">S</tspan><tspan x="394.3" textLength="47.94" lengthAdjust="spacingAndGlyphs">O</tspan><tspan x="445.7" textLength="42.55" lengthAdjust="spacingAndGlyphs">R</tspan><tspan x="490.9" textLength="45.97" lengthAdjust="spacingAndGlyphs">D</tspan></text>
<text class="s" y="2361.10" font-size="31.69" stroke-width="0.81"><tspan x="591.0" textLength="20.98" lengthAdjust="spacingAndGlyphs">P</tspan><tspan x="613.3" textLength="23.99" lengthAdjust="spacingAndGlyphs">G</tspan><tspan x="639.0" textLength="29.00" lengthAdjust="spacingAndGlyphs">M</tspan><tspan x="670.6" textLength="18.16" lengthAdjust="spacingAndGlyphs">3</tspan></text>
<text class="s" y="2164.66" font-size="65.82" stroke-width="1.67"><tspan x="620.8" textLength="43.58" lengthAdjust="spacingAndGlyphs">P</tspan><tspan x="667.5" textLength="20.13" lengthAdjust="spacingAndGlyphs">I</tspan><tspan x="691.0" textLength="49.84" lengthAdjust="spacingAndGlyphs">G</tspan><tspan x="744.6" textLength="49.50" lengthAdjust="spacingAndGlyphs">K</tspan></text>
<text class="s" y="2351.83" font-size="68.14" stroke-width="1.73"><tspan x="763.9" textLength="51.60" lengthAdjust="spacingAndGlyphs">G</tspan><tspan x="818.9" textLength="43.76" lengthAdjust="spacingAndGlyphs">C</tspan><tspan x="868.3" textLength="51.83" lengthAdjust="spacingAndGlyphs">D</tspan><tspan x="923.7" textLength="51.39" lengthAdjust="spacingAndGlyphs">H</tspan></text>
<text class="s" y="2470.42" font-size="38.06" stroke-width="0.97"><tspan x="968.2" textLength="34.83" lengthAdjust="spacingAndGlyphs">M</tspan><tspan x="1005.7" textLength="25.32" lengthAdjust="spacingAndGlyphs">B</tspan><tspan x="1033.3" textLength="30.19" lengthAdjust="spacingAndGlyphs">O</tspan><tspan x="1063.8" textLength="29.59" lengthAdjust="spacingAndGlyphs">A</tspan><tspan x="1093.2" textLength="24.95" lengthAdjust="spacingAndGlyphs">T</tspan><tspan x="1120.5" textLength="21.67" lengthAdjust="spacingAndGlyphs">2</tspan></text>
<text class="s" y="2138.64" font-size="146.46" stroke-width="3.73"><tspan x="1050.5" textLength="83.95" lengthAdjust="spacingAndGlyphs">L</tspan><tspan x="1140.2" textLength="44.78" lengthAdjust="spacingAndGlyphs">I</tspan><tspan x="1194.6" textLength="96.98" lengthAdjust="spacingAndGlyphs">P</tspan><tspan x="1295.2" textLength="96.03" lengthAdjust="spacingAndGlyphs">T</tspan><tspan x="1400.1" textLength="83.41" lengthAdjust="spacingAndGlyphs">2</tspan></text>
<text class="s" y="2316.19" font-size="55.71" stroke-width="1.42"><tspan x="1622.6" textLength="36.89" lengthAdjust="spacingAndGlyphs">P</tspan><tspan x="1660.9" textLength="36.53" lengthAdjust="spacingAndGlyphs">T</tspan><tspan x="1699.6" textLength="41.90" lengthAdjust="spacingAndGlyphs">K</tspan><tspan x="1741.8" textLength="34.76" lengthAdjust="spacingAndGlyphs">6</tspan></text>
<text class="s" y="2336.56" font-size="97.77" stroke-width="2.49"><tspan x="1845.5" textLength="62.79" lengthAdjust="spacingAndGlyphs">C</tspan><tspan x="1917.1" textLength="56.04" lengthAdjust="spacingAndGlyphs">L</tspan><tspan x="1977.4" textLength="73.73" lengthAdjust="spacingAndGlyphs">N</tspan><tspan x="2059.8" textLength="55.92" lengthAdjust="spacingAndGlyphs">5</tspan></text>
<text class="s" y="2002.59" font-size="110.74" stroke-width="2.82"><tspan x="1936.7" textLength="73.33" lengthAdjust="spacingAndGlyphs">P</tspan><tspan x="2016.6" textLength="62.81" lengthAdjust="spacingAndGlyphs">F</tspan><tspan x="2089.7" textLength="83.51" lengthAdjust="spacingAndGlyphs">N</tspan><tspan x="2182.9" textLength="63.07" lengthAdjust="spacingAndGlyphs">2</tspan></text>
<text class="s" y="1985.90" font-size="31.50" stroke-width="0.80"><tspan x="2375.2" textLength="20.23" lengthAdjust="spacingAndGlyphs">C</tspan><tspan x="2398.0" textLength="23.75" lengthAdjust="spacingAndGlyphs">H</tspan><tspan x="2424.2" textLength="18.03" lengthAdjust="spacingAndGlyphs">E</tspan><tspan x="2444.9" textLength="23.69" lengthAdjust="spacingAndGlyphs">K</tspan><tspan x="2469.5" textLength="17.94" lengthAdjust="spacingAndGlyphs">2</tspan></text>
<text class="s" y="2225.21" font-size="46.20" stroke-width="1.18"><tspan x="2247.6" textLength="35.93" lengthAdjust="spacingAndGlyphs">A</tspan><tspan x="2284.6" textLength="34.84" lengthAdjust="spacingAndGlyphs">N</tspan><tspan x="2320.5" textLength="35.93" lengthAdjust="spacingAndGlyphs">A</tspan><tspan x="2357.6" textLength="30.60" lengthAdjust="spacingAndGlyphs">P</tspan><tspan x="2390.2" textLength="29.67" lengthAdjust="spacingAndGlyphs">C</tspan><tspan x="2423.7" textLength="28.05" lengthAdjust="spacingAndGlyphs">7</tspan></text>
<text class="s" y="2443.64" font-size="67.59" stroke-width="1.72"><tspan x="2186.0" textLength="47.57" lengthAdjust="spacingAndGlyphs">R</tspan><tspan x="2233.7" textLength="52.56" lengthAdjust="spacingAndGlyphs">A</tspan><tspan x="2288.3" textLength="44.97" lengthAdjust="spacingAndGlyphs">B</tspan><tspan x="2339.0" textLength="38.69" lengthAdjust="spacingAndGlyphs">E</tspan><tspan x="2383.6" textLength="44.76" lengthAdjust="spacingAndGlyphs">P</tspan><tspan x="2433.6" textLength="38.59" lengthAdjust="spacingAndGlyphs">1</tspan></text>
</g>
<g opacity="0.999">
<text class="t" y="161.12" font-size="100.98" stroke-width="2.57"><tspan x="46.5" textLength="60.42" lengthAdjust="spacingAndGlyphs">S</tspan><tspan x="114.8" textLength="92.42" lengthAdjust="spacingAndGlyphs">M</tspan><tspan x="209.3" textLength="78.52" lengthAdjust="spacingAndGlyphs">A</tspan><tspan x="289.9" textLength="76.81" lengthAdjust="spacingAndGlyphs">D</tspan><tspan x="374.2" textLength="57.51" lengthAdjust="spacingAndGlyphs">2</tspan></text>
<text class="t" y="120.74" font-size="51.96" stroke-width="1.32"><tspan x="494.9" textLength="31.09" lengthAdjust="spacingAndGlyphs">S</tspan><tspan x="528.9" textLength="34.07" lengthAdjust="spacingAndGlyphs">T</tspan><tspan x="565.2" textLength="36.58" lengthAdjust="spacingAndGlyphs">R</tspan><tspan x="601.9" textLength="40.41" lengthAdjust="spacingAndGlyphs">A</tspan><tspan x="643.4" textLength="39.52" lengthAdjust="spacingAndGlyphs">D</tspan><tspan x="683.5" textLength="40.41" lengthAdjust="spacingAndGlyphs">A</tspan></text>
<text class="t" y="376.21" font-size="30.57" stroke-width="0.78"><tspan x="18.4" textLength="22.54" lengthAdjust="spacingAndGlyphs">V</tspan><tspan x="42.2" textLength="23.25" lengthAdjust="spacingAndGlyphs">D</tspan><tspan x="65.8" textLength="23.77" lengthAdjust="spacingAndGlyphs">A</tspan><tspan x="90.0" textLength="19.63" lengthAdjust="spacingAndGlyphs">C</tspan><tspan x="112.9" textLength="17.45" lengthAdjust="spacingAndGlyphs">1</tspan></text>
<text class="t" y="460.62" font-size="77.14" stroke-width="1.96"><tspan x="178.6" textLength="58.18" lengthAdjust="spacingAndGlyphs">N</tspan><tspan x="241.2" textLength="49.54" lengthAdjust="spacingAndGlyphs">C</tspan><tspan x="297.2" textLength="58.02" lengthAdjust="spacingAndGlyphs">K</tspan><tspan x="357.7" textLength="44.05" lengthAdjust="spacingAndGlyphs">1</tspan></text>
<text class="t" y="245.48" font-size="64.72" stroke-width="1.65"><tspan x="734.2" textLength="48.67" lengthAdjust="spacingAndGlyphs">K</tspan><tspan x="782.8" textLength="41.56" lengthAdjust="spacingAndGlyphs">C</tspan><tspan x="829.8" textLength="48.81" lengthAdjust="spacingAndGlyphs">N</tspan><tspan x="882.8" textLength="48.67" lengthAdjust="spacingAndGlyphs">K</tspan><tspan x="931.8" textLength="40.37" lengthAdjust="spacingAndGlyphs">6</tspan></text>
<text class="t" y="422.61" font-size="54.33" stroke-width="1.38"><tspan x="581.4" textLength="35.62" lengthAdjust="spacingAndGlyphs">T</tspan><tspan x="619.4" textLength="38.24" lengthAdjust="spacingAndGlyphs">R</tspan><tspan x="660.3" textLength="35.98" lengthAdjust="spacingAndGlyphs">P</tspan><tspan x="698.9" textLength="49.73" lengthAdjust="spacingAndGlyphs">M</tspan><tspan x="751.9" textLength="32.98" lengthAdjust="spacingAndGlyphs">7</tspan></text>
<text class="t" y="568.68" font-size="32.94" stroke-width="0.84"><tspan x="803.5" textLength="19.71" lengthAdjust="spacingAndGlyphs">S</tspan><tspan x="826.3" textLength="18.86" lengthAdjust="spacingAndGlyphs">E</tspan><tspan x="847.8" textLength="30.15" lengthAdjust="spacingAndGlyphs">M</tspan><tspan x="878.6" textLength="25.62" lengthAdjust="spacingAndGlyphs">A</tspan><tspan x="905.7" textLength="18.88" lengthAdjust="spacingAndGlyphs">3</tspan><tspan x="927.6" textLength="21.92" lengthAdjust="spacingAndGlyphs">B</tspan></text>
<text class="t" y="226.92" font-size="53.37" stroke-width="1.36"><tspan x="1036.4" textLength="34.99" lengthAdjust="spacingAndGlyphs">T</tspan><tspan x="1073.5" textLength="40.25" lengthAdjust="spacingAndGlyphs">H</tspan><tspan x="1116.5" textLength="42.33" lengthAdjust="spacingAndGlyphs">O</tspan><tspan x="1161.2" textLength="34.27" lengthAdjust="spacingAndGlyphs">C</tspan><tspan x="1201.2" textLength="30.52" lengthAdjust="spacingAndGlyphs">5</tspan></text>
<text class="t" y="529.47" font-size="104.92" stroke-width="2.67"><tspan x="1018.8" textLength="73.85" lengthAdjust="spacingAndGlyphs">R</tspan><tspan x="1093.0" textLength="81.59" lengthAdjust="spacingAndGlyphs">A</tspan><tspan x="1177.3" textLength="73.85" lengthAdjust="spacingAndGlyphs">R</tspan><tspan x="1258.5" textLength="62.78" lengthAdjust="spacingAndGlyphs">S</tspan></text>
<text class="t" y="647.13" font-size="68.31" stroke-width="1.74"><tspan x="557.4" textLength="48.09" lengthAdjust="spacingAndGlyphs">R</tspan><tspan x="608.6" textLength="51.52" lengthAdjust="spacingAndGlyphs">N</tspan><tspan x="664.5" textLength="51.96" lengthAdjust="spacingAndGlyphs">D</tspan><tspan x="721.5" textLength="38.91" lengthAdjust="spacingAndGlyphs">2</tspan></text>
<text class="t" y="185.54" font-size="75.31" stroke-width="1.92"><tspan x="1310.9" textLength="43.11" lengthAdjust="spacingAndGlyphs">E</tspan><tspan x="1358.3" textLength="49.38" lengthAdjust="spacingAndGlyphs">T</tspan><tspan x="1411.2" textLength="42.71" lengthAdjust="spacingAndGlyphs">F</tspan><tspan x="1462.9" textLength="43.00" lengthAdjust="spacingAndGlyphs">1</tspan></text>
<text class="t" y="360.71" font-size="156.45" stroke-width="3.98"><tspan x="1594.0" textLength="103.60" lengthAdjust="spacingAndGlyphs">P</tspan><tspan x="1705.1" textLength="143.20" lengthAdjust="spacingAndGlyphs">M</tspan><tspan x="1861.9" textLength="93.62" lengthAdjust="spacingAndGlyphs">S</tspan><tspan x="1972.3" textLength="89.33" lengthAdjust="spacingAndGlyphs">1</tspan></text>
<text class="t" y="107.19" font-size="40.46" stroke-width="1.03"><tspan x="2086.8" textLength="26.79" lengthAdjust="spacingAndGlyphs">P</tspan><tspan x="2115.7" textLength="30.51" lengthAdjust="spacingAndGlyphs">N</tspan><tspan x="2148.9" textLength="30.43" lengthAdjust="spacingAndGlyphs">K</tspan><tspan x="2179.7" textLength="26.79" lengthAdjust="spacingAndGlyphs">P</tspan></text>
<text class="t" y="207.12" font-size="68.87" stroke-width="1.75"><tspan x="2238.0" textLength="45.16" lengthAdjust="spacingAndGlyphs">T</tspan><tspan x="2286.8" textLength="39.43" lengthAdjust="spacingAndGlyphs">E</tspan><tspan x="2332.3" textLength="48.48" lengthAdjust="spacingAndGlyphs">R</tspan><tspan x="2384.4" textLength="39.06" lengthAdjust="spacingAndGlyphs">F</tspan><tspan x="2431.7" textLength="39.33" lengthAdjust="spacingAndGlyphs">1</tspan></text>
<text class="t" y="454.87" font-size="49.50" stroke-width="1.26"><tspan x="2340.3" textLength="39.26" lengthAdjust="spacingAndGlyphs">O</tspan><tspan x="2382.3" textLength="34.84" lengthAdjust="spacingAndGlyphs">R</tspan><tspan x="2419.0" textLength="31.79" lengthAdjust="spacingAndGlyphs">C</tspan><tspan x="2455.3" textLength="29.12" lengthAdjust="spacingAndGlyphs">4</tspan></text>
<text class="t" y="600.61" font-size="46.43" stroke-width="1.18"><tspan x="2010.7" textLength="29.82" lengthAdjust="spacingAndGlyphs">C</tspan><tspan x="2044.8" textLength="30.89" lengthAdjust="spacingAndGlyphs">B</tspan><tspan x="2078.5" textLength="32.95" lengthAdjust="spacingAndGlyphs">X</tspan><tspan x="2115.2" textLength="26.56" lengthAdjust="spacingAndGlyphs">5</tspan></text>
<text class="t" y="668.92" font-size="61.43" stroke-width="1.56"><tspan x="2207.0" textLength="40.51" lengthAdjust="spacingAndGlyphs">Z</tspan><tspan x="2251.6" textLength="61.21" lengthAdjust="spacingAndGlyphs">W</tspan><tspan x="2317.2" textLength="18.78" lengthAdjust="spacingAndGlyphs">I</tspan><tspan x="2340.2" textLength="35.21" lengthAdjust="spacingAndGlyphs">L</tspan><tspan x="2377.6" textLength="39.45" lengthAdjust="spacingAndGlyphs">C</tspan><tspan x="2422.2" textLength="46.33" lengthAdjust="spacingAndGlyphs">H</tspan></text>
<text class="t" y="740.89" font-size="56.09" stroke-width="1.43"><tspan x="21.8" textLength="37.15" lengthAdjust="spacingAndGlyphs">P</tspan><tspan x="61.8" textLength="42.19" lengthAdjust="spacingAndGlyphs">K</tspan><tspan x="104.4" textLength="42.30" lengthAdjust="spacingAndGlyphs">N</tspan><tspan x="151.8" textLength="32.03" lengthAdjust="spacingAndGlyphs">1</tspan></text>
<text class="t" y="1005.56" font-size="81.99" stroke-width="2.09"><tspan x="95.1" textLength="57.71" lengthAdjust="spacingAndGlyphs">R</tspan><tspan x="153.1" textLength="63.76" lengthAdjust="spacingAndGlyphs">A</tspan><tspan x="219.3" textLength="54.55" lengthAdjust="spacingAndGlyphs">B</tspan><tspan x="281.6" textLength="46.98" lengthAdjust="spacingAndGlyphs">3</tspan><tspan x="334.0" textLength="53.87" lengthAdjust="spacingAndGlyphs">0</tspan></text>
<text class="t" y="850.23" font-size="52.38" stroke-width="1.33"><tspan x="454.4" textLength="36.87" lengthAdjust="spacingAndGlyphs">R</tspan><tspan x="491.4" textLength="40.73" lengthAdjust="spacingAndGlyphs">A</tspan><tspan x="533.7" textLength="34.85" lengthAdjust="spacingAndGlyphs">B</tspan><tspan x="572.7" textLength="30.02" lengthAdjust="spacingAndGlyphs">L</tspan><tspan x="606.1" textLength="29.83" lengthAdjust="spacingAndGlyphs">2</tspan><tspan x="641.1" textLength="34.85" lengthAdjust="spacingAndGlyphs">B</tspan></text>
<text class="t" y="1296.84" font-size="107.20" stroke-width="2.73"><tspan x="189.5" textLength="83.36" lengthAdjust="spacingAndGlyphs">A</tspan><tspan x="275.7" textLength="75.46" lengthAdjust="spacingAndGlyphs">R</tspan><tspan x="356.7" textLength="61.45" lengthAdjust="spacingAndGlyphs">L</tspan><tspan x="423.7" textLength="63.07" lengthAdjust="spacingAndGlyphs">4</tspan><tspan x="491.3" textLength="83.36" lengthAdjust="spacingAndGlyphs">A</tspan></text>
<text class="t" y="1103.54" font-size="59.80" stroke-width="1.52"><tspan x="632.5" textLength="46.50" lengthAdjust="spacingAndGlyphs">A</tspan><tspan x="680.5" textLength="42.09" lengthAdjust="spacingAndGlyphs">R</tspan><tspan x="725.8" textLength="33.92" lengthAdjust="spacingAndGlyphs">F</tspan><tspan x="765.6" textLength="42.09" lengthAdjust="spacingAndGlyphs">R</tspan><tspan x="810.6" textLength="39.60" lengthAdjust="spacingAndGlyphs">P</tspan><tspan x="854.8" textLength="34.15" lengthAdjust="spacingAndGlyphs">1</tspan></text>
<text class="t" y="818.03" font-size="60.61" stroke-width="1.54"><tspan x="982.6" textLength="36.27" lengthAdjust="spacingAndGlyphs">S</tspan><tspan x="1023.6" textLength="18.53" lengthAdjust="spacingAndGlyphs">I</tspan><tspan x="1043.4" textLength="47.13" lengthAdjust="spacingAndGlyphs">A</tspan><tspan x="1091.8" textLength="45.71" lengthAdjust="spacingAndGlyphs">H</tspan><tspan x="1142.8" textLength="34.52" lengthAdjust="spacingAndGlyphs">2</tspan></text>
<text class="t" y="992.91" font-size="38.70" stroke-width="0.98"><tspan x="944.7" textLength="25.38" lengthAdjust="spacingAndGlyphs">T</tspan><tspan x="971.8" textLength="27.24" lengthAdjust="spacingAndGlyphs">R</tspan><tspan x="1000.6" textLength="11.83" lengthAdjust="spacingAndGlyphs">I</tspan><tspan x="1014.7" textLength="35.42" lengthAdjust="spacingAndGlyphs">M</tspan><tspan x="1052.9" textLength="22.77" lengthAdjust="spacingAndGlyphs">4</tspan><tspan x="1078.9" textLength="23.49" lengthAdjust="spacingAndGlyphs">7</tspan></text>
<text class="t" y="1188.02" font-size="60.95" stroke-width="1.55"><tspan x="1042.6" textLength="43.17" lengthAdjust="spacingAndGlyphs">U</tspan><tspan x="1089.9" textLength="39.14" lengthAdjust="spacingAndGlyphs">C</tspan><tspan x="1134.1" textLength="45.96" lengthAdjust="spacingAndGlyphs">H</tspan><tspan x="1184.5" textLength="34.94" lengthAdjust="spacingAndGlyphs">L</tspan><tspan x="1223.5" textLength="34.86" lengthAdjust="spacingAndGlyphs">5</tspan></text>
<text class="t" y="708.94" font-size="44.37" stroke-width="1.13"><tspan x="1171.2" textLength="31.43" lengthAdjust="spacingAndGlyphs">U</tspan><tspan x="1206.3" textLength="29.52" lengthAdjust="spacingAndGlyphs">B</tspan><tspan x="1239.6" textLength="25.40" lengthAdjust="spacingAndGlyphs">E</tspan><tspan x="1269.7" textLength="25.27" lengthAdjust="spacingAndGlyphs">2</tspan><tspan x="1298.3" textLength="35.20" lengthAdjust="spacingAndGlyphs">Q</tspan><tspan x="1337.0" textLength="25.34" lengthAdjust="spacingAndGlyphs">1</tspan></text>
<text class="t" y="972.65" font-size="67.00" stroke-width="1.70"><tspan x="1202.5" textLength="50.97" lengthAdjust="spacingAndGlyphs">D</tspan><tspan x="1256.5" textLength="43.03" lengthAdjust="spacingAndGlyphs">C</tspan><tspan x="1302.3" textLength="52.10" lengthAdjust="spacingAndGlyphs">A</tspan><tspan x="1356.4" textLength="38.00" lengthAdjust="spacingAndGlyphs">F</tspan><tspan x="1401.2" textLength="39.42" lengthAdjust="spacingAndGlyphs">4</tspan></text>
<text class="t" y="777.15" font-size="66.53" stroke-width="1.69"><tspan x="1417.1" textLength="50.04" lengthAdjust="spacingAndGlyphs">K</tspan><tspan x="1468.4" textLength="38.09" lengthAdjust="spacingAndGlyphs">E</tspan><tspan x="1509.2" textLength="51.74" lengthAdjust="spacingAndGlyphs">A</tspan><tspan x="1562.7" textLength="44.06" lengthAdjust="spacingAndGlyphs">P</tspan><tspan x="1611.9" textLength="37.99" lengthAdjust="spacingAndGlyphs">1</tspan></text>
<text class="t" y="781.76" font-size="42.49" stroke-width="1.08"><tspan x="1769.3" textLength="24.10" lengthAdjust="spacingAndGlyphs">F</tspan><tspan x="1795.6" textLength="33.04" lengthAdjust="spacingAndGlyphs">A</tspan><tspan x="1829.6" textLength="32.04" lengthAdjust="spacingAndGlyphs">N</tspan><tspan x="1864.0" textLength="27.29" lengthAdjust="spacingAndGlyphs">C</tspan><tspan x="1895.2" textLength="24.10" lengthAdjust="spacingAndGlyphs">F</tspan></text>
<text class="t" y="1091.49" font-size="47.61" stroke-width="1.21"><tspan x="1627.5" textLength="33.78" lengthAdjust="spacingAndGlyphs">X</tspan><tspan x="1664.1" textLength="31.52" lengthAdjust="spacingAndGlyphs">P</tspan><tspan x="1698.0" textLength="35.90" lengthAdjust="spacingAndGlyphs">N</tspan><tspan x="1737.2" textLength="31.52" lengthAdjust="spacingAndGlyphs">P</tspan><tspan x="1771.8" textLength="27.26" lengthAdjust="spacingAndGlyphs">E</tspan><tspan x="1803.2" textLength="31.52" lengthAdjust="spacingAndGlyphs">P</tspan><tspan x="1838.4" textLength="27.18" lengthAdjust="spacingAndGlyphs">1</tspan></text>
<text class="t" y="1209.66" font-size="50.23" stroke-width="1.28"><tspan x="1330.8" textLength="32.93" lengthAdjust="spacingAndGlyphs">T</tspan><tspan x="1366.0" textLength="35.36" lengthAdjust="spacingAndGlyphs">R</tspan><tspan x="1403.8" textLength="33.26" lengthAdjust="spacingAndGlyphs">P</tspan><tspan x="1439.2" textLength="32.26" lengthAdjust="spacingAndGlyphs">C</tspan><tspan x="1476.1" textLength="29.55" lengthAdjust="spacingAndGlyphs">4</tspan><tspan x="1507.8" textLength="39.06" lengthAdjust="spacingAndGlyphs">A</tspan><tspan x="1548.1" textLength="33.26" lengthAdjust="spacingAndGlyphs">P</tspan></text>
<text class="t" y="830.09" font-size="71.58" stroke-width="1.82"><tspan x="1993.1" textLength="53.98" lengthAdjust="spacingAndGlyphs">N</tspan><tspan x="2053.5" textLength="42.83" lengthAdjust="spacingAndGlyphs">S</tspan><tspan x="2102.7" textLength="41.03" lengthAdjust="spacingAndGlyphs">L</tspan><tspan x="2148.7" textLength="40.87" lengthAdjust="spacingAndGlyphs">1</tspan></text>
<text class="t" y="978.93" font-size="37.23" stroke-width="0.95"><tspan x="2323.1" textLength="28.08" lengthAdjust="spacingAndGlyphs">H</tspan><tspan x="2353.5" textLength="28.32" lengthAdjust="spacingAndGlyphs">D</tspan><tspan x="2382.2" textLength="28.95" lengthAdjust="spacingAndGlyphs">A</tspan><tspan x="2411.7" textLength="23.91" lengthAdjust="spacingAndGlyphs">C</tspan><tspan x="2439.7" textLength="21.26" lengthAdjust="spacingAndGlyphs">1</tspan><tspan x="2463.4" textLength="24.46" lengthAdjust="spacingAndGlyphs">0</tspan></text>
<text class="t" y="1032.33" font-size="60.86" stroke-width="1.55"><tspan x="2058.2" textLength="40.30" lengthAdjust="spacingAndGlyphs">P</tspan><tspan x="2101.2" textLength="39.08" lengthAdjust="spacingAndGlyphs">C</tspan><tspan x="2144.7" textLength="46.08" lengthAdjust="spacingAndGlyphs">G</tspan><tspan x="2194.7" textLength="34.52" lengthAdjust="spacingAndGlyphs">F</tspan><tspan x="2234.9" textLength="37.97" lengthAdjust="spacingAndGlyphs">6</tspan></text>
<text class="t" y="1204.67" font-size="72.97" stroke-width="1.86"><tspan x="2158.4" textLength="51.36" lengthAdjust="spacingAndGlyphs">R</tspan><tspan x="2210.0" textLength="56.74" lengthAdjust="spacingAndGlyphs">A</tspan><tspan x="2268.2" textLength="55.50" lengthAdjust="spacingAndGlyphs">D</tspan><tspan x="2329.3" textLength="41.73" lengthAdjust="spacingAndGlyphs">5</tspan><tspan x="2379.1" textLength="41.66" lengthAdjust="spacingAndGlyphs">1</tspan><tspan x="2426.9" textLength="55.50" lengthAdjust="spacingAndGlyphs">D</tspan></text>
<text class="t" y="1274.13" font-size="52.98" stroke-width="1.35"><tspan x="1871.6" textLength="31.70" lengthAdjust="spacingAndGlyphs">S</tspan><tspan x="1907.8" textLength="35.08" lengthAdjust="spacingAndGlyphs">P</tspan><tspan x="1945.8" textLength="35.08" lengthAdjust="spacingAndGlyphs">P</tspan><tspan x="1984.0" textLength="30.37" lengthAdjust="spacingAndGlyphs">L</tspan><tspan x="2017.8" textLength="30.17" lengthAdjust="spacingAndGlyphs">2</tspan><tspan x="2053.2" textLength="35.25" lengthAdjust="spacingAndGlyphs">B</tspan></text>
<text class="t" y="1460.47" font-size="41.90" stroke-width="1.07"><tspan x="18.3" textLength="29.49" lengthAdjust="spacingAndGlyphs">R</tspan><tspan x="50.2" textLength="23.99" lengthAdjust="spacingAndGlyphs">E</tspan><tspan x="78.0" textLength="24.02" lengthAdjust="spacingAndGlyphs">L</tspan><tspan x="102.7" textLength="27.47" lengthAdjust="spacingAndGlyphs">T</tspan></text>
<text class="t" y="1751.57" font-size="49.63" stroke-width="1.26"><tspan x="27.5" textLength="29.70" lengthAdjust="spacingAndGlyphs">S</tspan><tspan x="61.9" textLength="35.16" lengthAdjust="spacingAndGlyphs">U</tspan><tspan x="100.4" textLength="31.87" lengthAdjust="spacingAndGlyphs">C</tspan><tspan x="136.8" textLength="28.45" lengthAdjust="spacingAndGlyphs">L</tspan><tspan x="165.3" textLength="38.59" lengthAdjust="spacingAndGlyphs">A</tspan><tspan x="206.0" textLength="28.27" lengthAdjust="spacingAndGlyphs">2</tspan></text>
<text class="t" y="1611.40" font-size="141.55" stroke-width="3.60"><tspan x="325.5" textLength="107.67" lengthAdjust="spacingAndGlyphs">D</tspan><tspan x="440.6" textLength="106.75" lengthAdjust="spacingAndGlyphs">H</tspan><tspan x="554.7" textLength="112.28" lengthAdjust="spacingAndGlyphs">O</tspan><tspan x="674.2" textLength="107.67" lengthAdjust="spacingAndGlyphs">D</tspan><tspan x="789.3" textLength="106.75" lengthAdjust="spacingAndGlyphs">H</tspan></text>
<text class="t" y="1580.29" font-size="47.65" stroke-width="1.21"><tspan x="1043.3" textLength="37.05" lengthAdjust="spacingAndGlyphs">A</tspan><tspan x="1081.8" textLength="27.31" lengthAdjust="spacingAndGlyphs">L</tspan><tspan x="1111.1" textLength="36.25" lengthAdjust="spacingAndGlyphs">D</tspan><tspan x="1149.8" textLength="35.94" lengthAdjust="spacingAndGlyphs">H</tspan><tspan x="1190.0" textLength="27.25" lengthAdjust="spacingAndGlyphs">5</tspan><tspan x="1219.3" textLength="37.05" lengthAdjust="spacingAndGlyphs">A</tspan><tspan x="1258.6" textLength="27.21" lengthAdjust="spacingAndGlyphs">1</tspan></text>
<text class="t" y="1894.27" font-size="41.30" stroke-width="1.05"><tspan x="876.8" textLength="32.11" lengthAdjust="spacingAndGlyphs">A</tspan><tspan x="909.4" textLength="31.27" lengthAdjust="spacingAndGlyphs">G</tspan><tspan x="942.9" textLength="37.80" lengthAdjust="spacingAndGlyphs">M</tspan><tspan x="981.5" textLength="32.11" lengthAdjust="spacingAndGlyphs">A</tspan><tspan x="1013.4" textLength="27.08" lengthAdjust="spacingAndGlyphs">T</tspan></text>
<text class="t" y="1386.11" font-size="30.86" stroke-width="0.79"><tspan x="1181.4" textLength="23.47" lengthAdjust="spacingAndGlyphs">D</tspan><tspan x="1206.5" textLength="23.27" lengthAdjust="spacingAndGlyphs">N</tspan><tspan x="1230.5" textLength="24.00" lengthAdjust="spacingAndGlyphs">A</tspan><tspan x="1251.2" textLength="14.07" lengthAdjust="spacingAndGlyphs">J</tspan><tspan x="1266.2" textLength="19.82" lengthAdjust="spacingAndGlyphs">C</tspan><tspan x="1289.4" textLength="17.62" lengthAdjust="spacingAndGlyphs">1</tspan><tspan x="1310.4" textLength="17.62" lengthAdjust="spacingAndGlyphs">1</tspan></text>
<text class="t" y="1533.92" font-size="85.15" stroke-width="2.17"><tspan x="1500.5" textLength="60.32" lengthAdjust="spacingAndGlyphs">U</tspan><tspan x="1567.9" textLength="56.65" lengthAdjust="spacingAndGlyphs">B</tspan><tspan x="1631.8" textLength="48.75" lengthAdjust="spacingAndGlyphs">E</tspan><tspan x="1689.5" textLength="48.50" lengthAdjust="spacingAndGlyphs">2</tspan><tspan x="1744.7" textLength="64.48" lengthAdjust="spacingAndGlyphs">G</tspan><tspan x="1815.9" textLength="48.50" lengthAdjust="spacingAndGlyphs">2</tspan></text>
<text class="t" y="1901.76" font-size="57.91" stroke-width="1.47"><tspan x="1554.2" textLength="17.71" lengthAdjust="spacingAndGlyphs">I</tspan><tspan x="1575.3" textLength="53.01" lengthAdjust="spacingAndGlyphs">M</tspan><tspan x="1632.1" textLength="38.35" lengthAdjust="spacingAndGlyphs">P</tspan><tspan x="1671.0" textLength="45.03" lengthAdjust="spacingAndGlyphs">A</tspan><tspan x="1718.6" textLength="32.98" lengthAdjust="spacingAndGlyphs">2</tspan></text>
<text class="t" y="1823.63" font-size="60.74" stroke-width="1.55"><tspan x="1814.4" textLength="34.78" lengthAdjust="spacingAndGlyphs">E</tspan><tspan x="1853.7" textLength="40.06" lengthAdjust="spacingAndGlyphs">Z</tspan><tspan x="1897.3" textLength="45.81" lengthAdjust="spacingAndGlyphs">H</tspan><tspan x="1948.4" textLength="34.59" lengthAdjust="spacingAndGlyphs">2</tspan></text>
<text class="t" y="1426.21" font-size="54.18" stroke-width="1.38"><tspan x="1935.0" textLength="36.05" lengthAdjust="spacingAndGlyphs">B</tspan><tspan x="1972.6" textLength="42.13" lengthAdjust="spacingAndGlyphs">A</tspan><tspan x="2015.4" textLength="41.03" lengthAdjust="spacingAndGlyphs">G</tspan><tspan x="2060.7" textLength="30.86" lengthAdjust="spacingAndGlyphs">2</tspan></text>
<text class="t" style="font-weight:normal" y="1448.23" font-size="16.08" stroke-width="0.13"><tspan x="2227.3" textLength="11.92" lengthAdjust="spacingAndGlyphs">H</tspan><tspan x="2240.0" textLength="11.83" lengthAdjust="spacingAndGlyphs">N</tspan><tspan x="2252.6" textLength="11.46" lengthAdjust="spacingAndGlyphs">R</tspan><tspan x="2264.3" textLength="11.83" lengthAdjust="spacingAndGlyphs">N</tspan><tspan x="2277.0" textLength="9.76" lengthAdjust="spacingAndGlyphs">P</tspan><tspan x="2287.0" textLength="9.46" lengthAdjust="spacingAndGlyphs">L</tspan><tspan x="2296.3" textLength="9.46" lengthAdjust="spacingAndGlyphs">L</tspan></text>
<text class="t" y="1632.27" font-size="49.27" stroke-width="1.25"><tspan x="1977.3" textLength="32.31" lengthAdjust="spacingAndGlyphs">T</tspan><tspan x="2012.2" textLength="28.21" lengthAdjust="spacingAndGlyphs">E</tspan><tspan x="2042.4" textLength="38.31" lengthAdjust="spacingAndGlyphs">A</tspan><tspan x="2081.8" textLength="37.48" lengthAdjust="spacingAndGlyphs">D</tspan><tspan x="2122.9" textLength="28.06" lengthAdjust="spacingAndGlyphs">2</tspan></text>
<text class="t" y="1621.07" font-size="49.47" stroke-width="1.26"><tspan x="2278.9" textLength="31.77" lengthAdjust="spacingAndGlyphs">C</tspan><tspan x="2315.2" textLength="28.36" lengthAdjust="spacingAndGlyphs">L</tspan><tspan x="2343.6" textLength="38.47" lengthAdjust="spacingAndGlyphs">A</tspan><tspan x="2384.4" textLength="29.60" lengthAdjust="spacingAndGlyphs">S</tspan><tspan x="2418.3" textLength="34.82" lengthAdjust="spacingAndGlyphs">R</tspan><tspan x="2455.5" textLength="32.76" lengthAdjust="spacingAndGlyphs">P</tspan></text>
<text class="t" y="1959.27" font-size="41.74" stroke-width="1.06"><tspan x="20.9" textLength="32.46" lengthAdjust="spacingAndGlyphs">A</tspan><tspan x="54.3" textLength="31.75" lengthAdjust="spacingAndGlyphs">D</tspan><tspan x="88.3" textLength="27.64" lengthAdjust="spacingAndGlyphs">P</tspan><tspan x="117.7" textLength="31.61" lengthAdjust="spacingAndGlyphs">G</tspan><tspan x="151.7" textLength="31.39" lengthAdjust="spacingAndGlyphs">K</tspan></text>
<text class="t" y="1991.13" font-size="60.63" stroke-width="1.54"><tspan x="227.6" textLength="40.15" lengthAdjust="spacingAndGlyphs">P</tspan><tspan x="271.4" textLength="34.39" lengthAdjust="spacingAndGlyphs">F</tspan><tspan x="311.5" textLength="45.59" lengthAdjust="spacingAndGlyphs">K</tspan><tspan x="357.6" textLength="40.15" lengthAdjust="spacingAndGlyphs">P</tspan></text>
<text class="t" y="2170.38" font-size="56.58" stroke-width="1.44"><tspan x="32.3" textLength="43.99" lengthAdjust="spacingAndGlyphs">A</tspan><tspan x="77.9" textLength="32.43" lengthAdjust="spacingAndGlyphs">L</tspan><tspan x="112.8" textLength="43.03" lengthAdjust="spacingAndGlyphs">D</tspan><tspan x="158.8" textLength="42.67" lengthAdjust="spacingAndGlyphs">H</tspan><tspan x="206.6" textLength="32.30" lengthAdjust="spacingAndGlyphs">1</tspan><tspan x="244.1" textLength="37.64" lengthAdjust="spacingAndGlyphs">B</tspan><tspan x="287.3" textLength="32.30" lengthAdjust="spacingAndGlyphs">1</tspan></text>
<text class="t" y="2430.51" font-size="101.69" stroke-width="2.59"><tspan x="32.7" textLength="71.58" lengthAdjust="spacingAndGlyphs">R</tspan><tspan x="109.2" textLength="67.34" lengthAdjust="spacingAndGlyphs">P</tspan><tspan x="181.4" textLength="31.09" lengthAdjust="spacingAndGlyphs">I</tspan><tspan x="214.5" textLength="79.08" lengthAdjust="spacingAndGlyphs">A</tspan></text>
<text class="t" y="2353.23" font-size="60.44" stroke-width="1.54"><tspan x="353.0" textLength="36.17" lengthAdjust="spacingAndGlyphs">S</tspan><tspan x="393.3" textLength="47.94" lengthAdjust="spacingAndGlyphs">O</tspan><tspan x="444.7" textLength="42.55" lengthAdjust="spacingAndGlyphs">R</tspan><tspan x="489.9" textLength="45.97" lengthAdjust="spacingAndGlyphs">D</tspan></text>
<text class="t" y="2360.10" font-size="31.69" stroke-width="0.81"><tspan x="590.0" textLength="20.98" lengthAdjust="spacingAndGlyphs">P</tspan><tspan x="612.3" textLength="23.99" lengthAdjust="spacingAndGlyphs">G</tspan><tspan x="638.0" textLength="29.00" lengthAdjust="spacingAndGlyphs">M</tspan><tspan x="669.6" textLength="18.16" lengthAdjust="spacingAndGlyphs">3</tspan></text>
<text class="t" y="2163.66" font-size="65.82" stroke-width="1.67"><tspan x="619.8" textLength="43.58" lengthAdjust="spacingAndGlyphs">P</tspan><tspan x="666.5" textLength="20.13" lengthAdjust="spacingAndGlyphs">I</tspan><tspan x="690.0" textLength="49.84" lengthAdjust="spacingAndGlyphs">G</tspan><tspan x="743.6" textLength="49.50" lengthAdjust="spacingAndGlyphs">K</tspan></text>
<text class="t" y="2350.83" font-size="68.14" stroke-width="1.73"><tspan x="762.9" textLength="51.60" lengthAdjust="spacingAndGlyphs">G</tspan><tspan x="817.9" textLength="43.76" lengthAdjust="spacingAndGlyphs">C</tspan><tspan x="867.3" textLength="51.83" lengthAdjust="spacingAndGlyphs">D</tspan><tspan x="922.7" textLength="51.39" lengthAdjust="spacingAndGlyphs">H</tspan></text>
<text class="t" y="2469.42" font-size="38.06" stroke-width="0.97"><tspan x="967.2" textLength="34.83" lengthAdjust="spacingAndGlyphs">M</tspan><tspan x="1004.7" textLength="25.32" lengthAdjust="spacingAndGlyphs">B</tspan><tspan x="1032.3" textLength="30.19" lengthAdjust="spacingAndGlyphs">O</tspan><tspan x="1062.8" textLength="29.59" lengthAdjust="spacingAndGlyphs">A</tspan><tspan x="1092.2" textLength="24.95" lengthAdjust="spacingAndGlyphs">T</tspan><tspan x="1119.5" textLength="21.67" lengthAdjust="spacingAndGlyphs">2</tspan></text>
<text class="t" y="2137.64" font-size="146.46" stroke-width="3.73"><tspan x="1049.5" textLength="83.95" lengthAdjust="spacingAndGlyphs">L</tspan><tspan x="1139.2" textLength="44.78" lengthAdjust="spacingAndGlyphs">I</tspan><tspan x="1193.6" textLength="96.98" lengthAdjust="spacingAndGlyphs">P</tspan><tspan x="1294.2" textLength="96.03" lengthAdjust="spacingAndGlyphs">T</tspan><tspan x="1399.1" textLength="83.41" lengthAdjust="spacingAndGlyphs">2</tspan></text>
<text class="t" y="2315.19" font-size="55.71" stroke-width="1.42"><tspan x="1621.6" textLength="36.89" lengthAdjust="spacingAndGlyphs">P</tspan><tspan x="1659.9" textLength="36.53" lengthAdjust="spacingAndGlyphs">T</tspan><tspan x="1698.6" textLength="41.90" lengthAdjust="spacingAndGlyphs">K</tspan><tspan x="1740.8" textLength="34.76" lengthAdjust="spacingAndGlyphs">6</tspan></text>
<text class="t" y="2335.56" font-size="97.77" stroke-width="2.49"><tspan x="1844.5" textLength="62.79" lengthAdjust="spacingAndGlyphs">C</tspan><tspan x="1916.1" textLength="56.04" lengthAdjust="spacingAndGlyphs">L</tspan><tspan x="1976.4" textLength="73.73" lengthAdjust="spacingAndGlyphs">N</tspan><tspan x="2058.8" textLength="55.92" lengthAdjust="spacingAndGlyphs">5</tspan></text>
<text class="t" y="2001.59" font-size="110.74" stroke-width="2.82"><tspan x="1935.7" textLength="73.33" lengthAdjust="spacingAndGlyphs">P</tspan><tspan x="2015.6" textLength="62.81" lengthAdjust="spacingAndGlyphs">F</tspan><tspan x="2088.7" textLength="83.51" lengthAdjust="spacingAndGlyphs">N</tspan><tspan x="2181.9" textLength="63.07" lengthAdjust="spacingAndGlyphs">2</tspan></text>
<text class="t" y="1984.90" font-size="31.50" stroke-width="0.80"><tspan x="2374.2" textLength="20.23" lengthAdjust="spacingAndGlyphs">C</tspan><tspan x="2397.0" textLength="23.75" lengthAdjust="spacingAndGlyphs">H</tspan><tspan x="2423.2" textLength="18.03" lengthAdjust="spacingAndGlyphs">E</tspan><tspan x="2443.9" textLength="23.69" lengthAdjust="spacingAndGlyphs">K</tspan><tspan x="2468.5" textLength="17.94" lengthAdjust="spacingAndGlyphs">2</tspan></text>
<text class="t" y="2224.21" font-size="46.20" stroke-width="1.18"><tspan x="2246.6" textLength="35.93" lengthAdjust="spacingAndGlyphs">A</tspan><tspan x="2283.6" textLength="34.84" lengthAdjust="spacingAndGlyphs">N</tspan><tspan x="2319.5" textLength="35.93" lengthAdjust="spacingAndGlyphs">A</tspan><tspan x="2356.6" textLength="30.60" lengthAdjust="spacingAndGlyphs">P</tspan><tspan x="2389.2" textLength="29.67" lengthAdjust="spacingAndGlyphs">C</tspan><tspan x="2422.7" textLength="28.05" lengthAdjust="spacingAndGlyphs">7</tspan></text>
<text class="t" y="2442.64" font-size="67.59" stroke-width="1.72"><tspan x="2185.0" textLength="47.57" lengthAdjust="spacingAndGlyphs">R</tspan><tspan x="2232.7" textLength="52.56" lengthAdjust="spacingAndGlyphs">A</tspan><tspan x="2287.3" textLength="44.97" lengthAdjust="spacingAndGlyphs">B</tspan><tspan x="2338.0" textLength="38.69" lengthAdjust="spacingAndGlyphs">E</tspan><tspan x="2382.6" textLength="44.76" lengthAdjust="spacingAndGlyphs">P</tspan><tspan x="2432.6" textLength="38.59" lengthAdjust="spacingAndGlyphs">1</tspan></text>
</g>
</svg></body></html>
